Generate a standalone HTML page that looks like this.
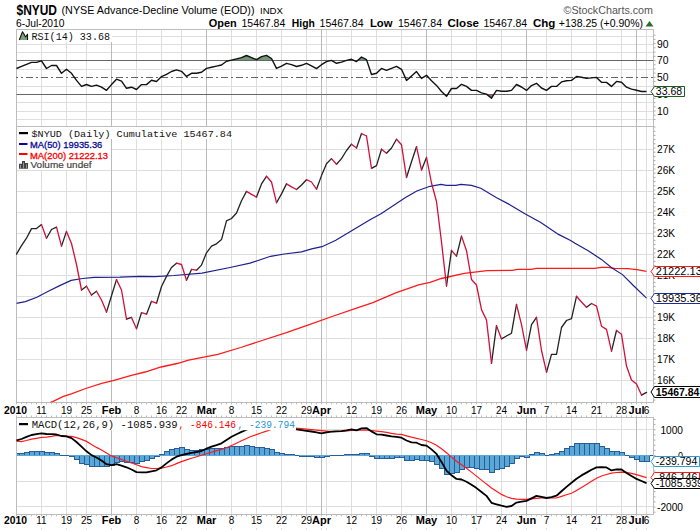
<!DOCTYPE html><html><head><meta charset="utf-8"><style>html,body{margin:0;padding:0;background:#fff;width:700px;height:530px;overflow:hidden}</style></head><body><svg width="700" height="530" viewBox="0 0 700 530" style="display:block">
<rect width="700" height="530" fill="#fff"/>
<text x="16.5" y="15" font-size="14" fill="#000" font-family="'Liberation Sans', sans-serif" font-weight="bold" textLength="40.5" lengthAdjust="spacingAndGlyphs" >$NYUD</text>
<text x="61.5" y="14" font-size="11" fill="#000" font-family="'Liberation Sans', sans-serif" textLength="193" lengthAdjust="spacingAndGlyphs" >(NYSE Advance-Decline Volume (EOD))</text>
<text x="260" y="13.6" font-size="8.8" fill="#000" font-family="'Liberation Sans', sans-serif" textLength="23" lengthAdjust="spacingAndGlyphs" >INDX</text>
<text x="563.5" y="14" font-size="10.8" fill="#555" font-family="'Liberation Sans', sans-serif" textLength="89.5" lengthAdjust="spacingAndGlyphs" >&#169;StockCharts.com</text>
<text x="16" y="26.5" font-size="10.3" fill="#000" font-family="'Liberation Sans', sans-serif" textLength="48.5" lengthAdjust="spacingAndGlyphs" >6-Jul-2010</text>
<text x="208.8" y="26.5" font-size="10.7" fill="#000" font-family="'Liberation Sans', sans-serif" font-weight="bold" textLength="28" lengthAdjust="spacingAndGlyphs" >Open</text>
<text x="241.5" y="26.5" font-size="10.7" fill="#000" font-family="'Liberation Sans', sans-serif" textLength="43.8" lengthAdjust="spacingAndGlyphs" >15467.84</text>
<text x="291.8" y="26.5" font-size="10.7" fill="#000" font-family="'Liberation Sans', sans-serif" font-weight="bold" textLength="23" lengthAdjust="spacingAndGlyphs" >High</text>
<text x="319.6" y="26.5" font-size="10.7" fill="#000" font-family="'Liberation Sans', sans-serif" textLength="44" lengthAdjust="spacingAndGlyphs" >15467.84</text>
<text x="369.9" y="26.5" font-size="10.7" fill="#000" font-family="'Liberation Sans', sans-serif" font-weight="bold" textLength="22.5" lengthAdjust="spacingAndGlyphs" >Low</text>
<text x="398" y="26.5" font-size="10.7" fill="#000" font-family="'Liberation Sans', sans-serif" textLength="44" lengthAdjust="spacingAndGlyphs" >15467.84</text>
<text x="447.5" y="26.5" font-size="10.7" fill="#000" font-family="'Liberation Sans', sans-serif" font-weight="bold" textLength="31.5" lengthAdjust="spacingAndGlyphs" >Close</text>
<text x="483.4" y="26.5" font-size="10.7" fill="#000" font-family="'Liberation Sans', sans-serif" textLength="43.8" lengthAdjust="spacingAndGlyphs" >15467.84</text>
<text x="533" y="26.5" font-size="10.7" fill="#000" font-family="'Liberation Sans', sans-serif" font-weight="bold" textLength="22.4" lengthAdjust="spacingAndGlyphs" >Chg</text>
<text x="558.8" y="26.5" font-size="10.7" fill="#000" font-family="'Liberation Sans', sans-serif" textLength="84.2" lengthAdjust="spacingAndGlyphs" >+138.25 (+0.90%)</text>
<path d="M645.5 26.5 L649.5 21 L653.5 26.5 Z" fill="#2d6e2d"/>
<line x1="16.5" y1="36.5" x2="653.5" y2="36.5" stroke="#dedede" stroke-width="1" />
<line x1="16.5" y1="44.5" x2="653.5" y2="44.5" stroke="#dedede" stroke-width="1" />
<line x1="16.5" y1="52.5" x2="653.5" y2="52.5" stroke="#dedede" stroke-width="1" />
<line x1="16.5" y1="69.5" x2="653.5" y2="69.5" stroke="#dedede" stroke-width="1" />
<line x1="16.5" y1="86.5" x2="653.5" y2="86.5" stroke="#dedede" stroke-width="1" />
<line x1="16.5" y1="102.5" x2="653.5" y2="102.5" stroke="#dedede" stroke-width="1" />
<line x1="16.5" y1="111.5" x2="653.5" y2="111.5" stroke="#dedede" stroke-width="1" />
<line x1="16.5" y1="119.5" x2="653.5" y2="119.5" stroke="#dedede" stroke-width="1" />
<line x1="41.5" y1="29.5" x2="41.5" y2="126.5" stroke="#dedede" stroke-width="1"/>
<line x1="66.5" y1="29.5" x2="66.5" y2="126.5" stroke="#dedede" stroke-width="1"/>
<line x1="86.5" y1="29.5" x2="86.5" y2="126.5" stroke="#dedede" stroke-width="1"/>
<line x1="136.5" y1="29.5" x2="136.5" y2="126.5" stroke="#dedede" stroke-width="1"/>
<line x1="161.5" y1="29.5" x2="161.5" y2="126.5" stroke="#dedede" stroke-width="1"/>
<line x1="181.5" y1="29.5" x2="181.5" y2="126.5" stroke="#dedede" stroke-width="1"/>
<line x1="231.5" y1="29.5" x2="231.5" y2="126.5" stroke="#dedede" stroke-width="1"/>
<line x1="256.5" y1="29.5" x2="256.5" y2="126.5" stroke="#dedede" stroke-width="1"/>
<line x1="281.5" y1="29.5" x2="281.5" y2="126.5" stroke="#dedede" stroke-width="1"/>
<line x1="306.5" y1="29.5" x2="306.5" y2="126.5" stroke="#dedede" stroke-width="1"/>
<line x1="326.5" y1="29.5" x2="326.5" y2="126.5" stroke="#dedede" stroke-width="1"/>
<line x1="351.5" y1="29.5" x2="351.5" y2="126.5" stroke="#dedede" stroke-width="1"/>
<line x1="376.5" y1="29.5" x2="376.5" y2="126.5" stroke="#dedede" stroke-width="1"/>
<line x1="401.5" y1="29.5" x2="401.5" y2="126.5" stroke="#dedede" stroke-width="1"/>
<line x1="451.5" y1="29.5" x2="451.5" y2="126.5" stroke="#dedede" stroke-width="1"/>
<line x1="476.5" y1="29.5" x2="476.5" y2="126.5" stroke="#dedede" stroke-width="1"/>
<line x1="501.5" y1="29.5" x2="501.5" y2="126.5" stroke="#dedede" stroke-width="1"/>
<line x1="546.5" y1="29.5" x2="546.5" y2="126.5" stroke="#dedede" stroke-width="1"/>
<line x1="571.5" y1="29.5" x2="571.5" y2="126.5" stroke="#dedede" stroke-width="1"/>
<line x1="596.5" y1="29.5" x2="596.5" y2="126.5" stroke="#dedede" stroke-width="1"/>
<line x1="621.5" y1="29.5" x2="621.5" y2="126.5" stroke="#dedede" stroke-width="1"/>
<line x1="646.5" y1="29.5" x2="646.5" y2="126.5" stroke="#dedede" stroke-width="1"/>
<line x1="111.5" y1="29.5" x2="111.5" y2="126.5" stroke="#bababa" stroke-width="1"/>
<line x1="206.5" y1="29.5" x2="206.5" y2="126.5" stroke="#bababa" stroke-width="1"/>
<line x1="321.5" y1="29.5" x2="321.5" y2="126.5" stroke="#bababa" stroke-width="1"/>
<line x1="426.5" y1="29.5" x2="426.5" y2="126.5" stroke="#bababa" stroke-width="1"/>
<line x1="526.5" y1="29.5" x2="526.5" y2="126.5" stroke="#bababa" stroke-width="1"/>
<line x1="636.5" y1="29.5" x2="636.5" y2="126.5" stroke="#bababa" stroke-width="1"/>
<rect x="16.5" y="29.5" width="637.0" height="97.0" fill="none" stroke="#bdbdbd"/>
<clipPath id="ca60.5"><rect x="0" y="0" width="700" height="60.5"/></clipPath>
<path d="M16.5 68.50 L21.5 66.40 L26.5 64.40 L31.5 62.40 L36.5 62.40 L41.5 60.90 L46.5 68.50 L51.5 65.50 L56.5 65.50 L61.5 73.30 L66.5 69.30 L71.5 73.30 L76.5 80.40 L81.5 86.40 L86.5 84.50 L91.5 86.40 L96.5 85.10 L101.5 87.20 L106.5 90.30 L111.5 84.60 L116.5 79.20 L121.5 81.10 L126.5 88.30 L131.5 87.20 L136.5 89.50 L141.5 84.60 L146.5 84.60 L151.5 80.30 L156.5 81.50 L161.5 76.60 L166.5 74.40 L171.5 71.50 L176.5 69.90 L181.5 71.30 L186.5 76.40 L191.5 73.30 L196.5 73.30 L201.5 72.20 L206.5 68.40 L211.5 67.30 L216.5 66.10 L221.5 65.00 L226.5 61.30 L231.5 60.10 L236.5 58.90 L241.5 57.60 L246.5 55.50 L251.5 57.60 L256.5 59.60 L261.5 56.70 L266.5 55.30 L271.5 58.50 L276.5 68.40 L281.5 66.10 L286.5 63.30 L291.5 64.70 L296.5 66.50 L301.5 65.30 L306.5 63.30 L311.5 65.80 L316.5 68.60 L321.5 64.70 L326.5 61.60 L331.5 60.40 L336.5 63.30 L341.5 62.10 L346.5 60.40 L351.5 59.30 L356.5 61.60 L361.5 57.00 L366.5 59.60 L371.5 74.50 L376.5 73.30 L381.5 68.40 L386.5 70.40 L391.5 68.30 L396.5 66.40 L401.5 69.30 L406.5 80.40 L411.5 76.10 L416.5 71.60 L421.5 78.40 L426.5 75.30 L431.5 80.70 L436.5 85.40 L441.5 91.50 L446.5 96.30 L451.5 88.50 L456.5 88.50 L461.5 84.30 L466.5 86.40 L471.5 90.40 L476.5 90.40 L481.5 92.90 L486.5 94.10 L491.5 98.20 L496.5 90.40 L501.5 91.30 L506.5 91.30 L511.5 90.40 L516.5 84.50 L521.5 87.00 L526.5 90.40 L531.5 85.60 L536.5 83.30 L541.5 88.00 L546.5 90.40 L551.5 86.40 L556.5 86.40 L561.5 81.90 L566.5 80.70 L571.5 80.40 L576.5 76.50 L581.5 77.30 L586.5 78.40 L591.5 77.90 L596.5 77.40 L601.5 82.30 L606.5 82.40 L611.5 86.40 L616.5 81.40 L621.5 82.30 L626.5 87.20 L631.5 89.10 L636.5 90.20 L641.5 91.50 L646.5 91.50 L646.5 60.5 L16.5 60.5 Z" fill="#6f9a73" clip-path="url(#ca60.5)"/>
<clipPath id="cb94.5"><rect x="0" y="94.5" width="700" height="40"/></clipPath>
<path d="M16.5 68.50 L21.5 66.40 L26.5 64.40 L31.5 62.40 L36.5 62.40 L41.5 60.90 L46.5 68.50 L51.5 65.50 L56.5 65.50 L61.5 73.30 L66.5 69.30 L71.5 73.30 L76.5 80.40 L81.5 86.40 L86.5 84.50 L91.5 86.40 L96.5 85.10 L101.5 87.20 L106.5 90.30 L111.5 84.60 L116.5 79.20 L121.5 81.10 L126.5 88.30 L131.5 87.20 L136.5 89.50 L141.5 84.60 L146.5 84.60 L151.5 80.30 L156.5 81.50 L161.5 76.60 L166.5 74.40 L171.5 71.50 L176.5 69.90 L181.5 71.30 L186.5 76.40 L191.5 73.30 L196.5 73.30 L201.5 72.20 L206.5 68.40 L211.5 67.30 L216.5 66.10 L221.5 65.00 L226.5 61.30 L231.5 60.10 L236.5 58.90 L241.5 57.60 L246.5 55.50 L251.5 57.60 L256.5 59.60 L261.5 56.70 L266.5 55.30 L271.5 58.50 L276.5 68.40 L281.5 66.10 L286.5 63.30 L291.5 64.70 L296.5 66.50 L301.5 65.30 L306.5 63.30 L311.5 65.80 L316.5 68.60 L321.5 64.70 L326.5 61.60 L331.5 60.40 L336.5 63.30 L341.5 62.10 L346.5 60.40 L351.5 59.30 L356.5 61.60 L361.5 57.00 L366.5 59.60 L371.5 74.50 L376.5 73.30 L381.5 68.40 L386.5 70.40 L391.5 68.30 L396.5 66.40 L401.5 69.30 L406.5 80.40 L411.5 76.10 L416.5 71.60 L421.5 78.40 L426.5 75.30 L431.5 80.70 L436.5 85.40 L441.5 91.50 L446.5 96.30 L451.5 88.50 L456.5 88.50 L461.5 84.30 L466.5 86.40 L471.5 90.40 L476.5 90.40 L481.5 92.90 L486.5 94.10 L491.5 98.20 L496.5 90.40 L501.5 91.30 L506.5 91.30 L511.5 90.40 L516.5 84.50 L521.5 87.00 L526.5 90.40 L531.5 85.60 L536.5 83.30 L541.5 88.00 L546.5 90.40 L551.5 86.40 L556.5 86.40 L561.5 81.90 L566.5 80.70 L571.5 80.40 L576.5 76.50 L581.5 77.30 L586.5 78.40 L591.5 77.90 L596.5 77.40 L601.5 82.30 L606.5 82.40 L611.5 86.40 L616.5 81.40 L621.5 82.30 L626.5 87.20 L631.5 89.10 L636.5 90.20 L641.5 91.50 L646.5 91.50 L646.5 94.5 L16.5 94.5 Z" fill="#b06070" clip-path="url(#cb94.5)"/>
<line x1="16.5" y1="60.5" x2="653.5" y2="60.5" stroke="#666" stroke-width="1" />
<line x1="16.5" y1="94.5" x2="653.5" y2="94.5" stroke="#666" stroke-width="1" />
<line x1="16" y1="77.5" x2="653.5" y2="77.5" stroke="#666" stroke-width="1" stroke-dasharray="7,3,2,3" stroke-dashoffset="5"/>
<polyline fill="none" stroke="#111" stroke-width="1.4" stroke-linejoin="round" points="16.5,68.50 21.5,66.40 26.5,64.40 31.5,62.40 36.5,62.40 41.5,60.90 46.5,68.50 51.5,65.50 56.5,65.50 61.5,73.30 66.5,69.30 71.5,73.30 76.5,80.40 81.5,86.40 86.5,84.50 91.5,86.40 96.5,85.10 101.5,87.20 106.5,90.30 111.5,84.60 116.5,79.20 121.5,81.10 126.5,88.30 131.5,87.20 136.5,89.50 141.5,84.60 146.5,84.60 151.5,80.30 156.5,81.50 161.5,76.60 166.5,74.40 171.5,71.50 176.5,69.90 181.5,71.30 186.5,76.40 191.5,73.30 196.5,73.30 201.5,72.20 206.5,68.40 211.5,67.30 216.5,66.10 221.5,65.00 226.5,61.30 231.5,60.10 236.5,58.90 241.5,57.60 246.5,55.50 251.5,57.60 256.5,59.60 261.5,56.70 266.5,55.30 271.5,58.50 276.5,68.40 281.5,66.10 286.5,63.30 291.5,64.70 296.5,66.50 301.5,65.30 306.5,63.30 311.5,65.80 316.5,68.60 321.5,64.70 326.5,61.60 331.5,60.40 336.5,63.30 341.5,62.10 346.5,60.40 351.5,59.30 356.5,61.60 361.5,57.00 366.5,59.60 371.5,74.50 376.5,73.30 381.5,68.40 386.5,70.40 391.5,68.30 396.5,66.40 401.5,69.30 406.5,80.40 411.5,76.10 416.5,71.60 421.5,78.40 426.5,75.30 431.5,80.70 436.5,85.40 441.5,91.50 446.5,96.30 451.5,88.50 456.5,88.50 461.5,84.30 466.5,86.40 471.5,90.40 476.5,90.40 481.5,92.90 486.5,94.10 491.5,98.20 496.5,90.40 501.5,91.30 506.5,91.30 511.5,90.40 516.5,84.50 521.5,87.00 526.5,90.40 531.5,85.60 536.5,83.30 541.5,88.00 546.5,90.40 551.5,86.40 556.5,86.40 561.5,81.90 566.5,80.70 571.5,80.40 576.5,76.50 581.5,77.30 586.5,78.40 591.5,77.90 596.5,77.40 601.5,82.30 606.5,82.40 611.5,86.40 616.5,81.40 621.5,82.30 626.5,87.20 631.5,89.10 636.5,90.20 641.5,91.50 646.5,91.50"/>
<rect x="17" y="30" width="95" height="12" fill="#fff"/>
<path d="M19.5 40 L22.5 31.8 L23.5 33.2 L25.6 37 L27.5 34.2 L27.5 40 Z" fill="#7aa27a"/>
<path d="M19.3 40 L22.5 31.8 L23.5 33.2 L25.6 37 L27.5 34.2 L27.5 40" fill="none" stroke="#111" stroke-width="1.1" stroke-linejoin="round"/>
<text x="31.5" y="39.6" font-size="10" fill="#111" font-family="'Liberation Mono', monospace" textLength="78.5" lengthAdjust="spacingAndGlyphs" >RSI(14) 33.68</text>
<line x1="653.5" y1="35.2" x2="655.5" y2="35.2" stroke="#aaa"/>
<line x1="653.5" y1="39.4" x2="655.5" y2="39.4" stroke="#aaa"/>
<line x1="653.5" y1="43.6" x2="655.5" y2="43.6" stroke="#aaa"/>
<line x1="653.5" y1="47.8" x2="655.5" y2="47.8" stroke="#aaa"/>
<line x1="653.5" y1="52.1" x2="655.5" y2="52.1" stroke="#aaa"/>
<line x1="653.5" y1="56.3" x2="655.5" y2="56.3" stroke="#aaa"/>
<line x1="653.5" y1="60.5" x2="655.5" y2="60.5" stroke="#aaa"/>
<line x1="653.5" y1="64.7" x2="655.5" y2="64.7" stroke="#aaa"/>
<line x1="653.5" y1="68.9" x2="655.5" y2="68.9" stroke="#aaa"/>
<line x1="653.5" y1="73.1" x2="655.5" y2="73.1" stroke="#aaa"/>
<line x1="653.5" y1="77.3" x2="655.5" y2="77.3" stroke="#aaa"/>
<line x1="653.5" y1="81.5" x2="655.5" y2="81.5" stroke="#aaa"/>
<line x1="653.5" y1="85.8" x2="655.5" y2="85.8" stroke="#aaa"/>
<line x1="653.5" y1="90.0" x2="655.5" y2="90.0" stroke="#aaa"/>
<line x1="653.5" y1="94.2" x2="655.5" y2="94.2" stroke="#aaa"/>
<line x1="653.5" y1="98.4" x2="655.5" y2="98.4" stroke="#aaa"/>
<line x1="653.5" y1="102.6" x2="655.5" y2="102.6" stroke="#aaa"/>
<line x1="653.5" y1="106.8" x2="655.5" y2="106.8" stroke="#aaa"/>
<line x1="653.5" y1="111.0" x2="655.5" y2="111.0" stroke="#aaa"/>
<line x1="653.5" y1="115.2" x2="655.5" y2="115.2" stroke="#aaa"/>
<line x1="653.5" y1="119.5" x2="655.5" y2="119.5" stroke="#aaa"/>
<text x="657" y="48.2" font-size="10" fill="#000" font-family="'Liberation Sans', sans-serif" textLength="11.5" lengthAdjust="spacingAndGlyphs" >90</text>
<text x="657" y="64.2" font-size="10" fill="#000" font-family="'Liberation Sans', sans-serif" textLength="11.5" lengthAdjust="spacingAndGlyphs" >70</text>
<text x="657" y="81.2" font-size="10" fill="#000" font-family="'Liberation Sans', sans-serif" textLength="11.5" lengthAdjust="spacingAndGlyphs" >50</text>
<text x="657" y="98.2" font-size="10" fill="#000" font-family="'Liberation Sans', sans-serif" textLength="11.5" lengthAdjust="spacingAndGlyphs" >30</text>
<text x="657" y="115.2" font-size="10" fill="#000" font-family="'Liberation Sans', sans-serif" textLength="11.5" lengthAdjust="spacingAndGlyphs" >10</text>
<line x1="16.5" y1="149.5" x2="653.5" y2="149.5" stroke="#dedede" stroke-width="1" />
<line x1="16.5" y1="170.5" x2="653.5" y2="170.5" stroke="#dedede" stroke-width="1" />
<line x1="16.5" y1="191.5" x2="653.5" y2="191.5" stroke="#dedede" stroke-width="1" />
<line x1="16.5" y1="212.5" x2="653.5" y2="212.5" stroke="#dedede" stroke-width="1" />
<line x1="16.5" y1="233.5" x2="653.5" y2="233.5" stroke="#dedede" stroke-width="1" />
<line x1="16.5" y1="254.5" x2="653.5" y2="254.5" stroke="#dedede" stroke-width="1" />
<line x1="16.5" y1="275.5" x2="653.5" y2="275.5" stroke="#dedede" stroke-width="1" />
<line x1="16.5" y1="296.5" x2="653.5" y2="296.5" stroke="#dedede" stroke-width="1" />
<line x1="16.5" y1="317.5" x2="653.5" y2="317.5" stroke="#dedede" stroke-width="1" />
<line x1="16.5" y1="338.5" x2="653.5" y2="338.5" stroke="#dedede" stroke-width="1" />
<line x1="16.5" y1="359.5" x2="653.5" y2="359.5" stroke="#dedede" stroke-width="1" />
<line x1="16.5" y1="380.5" x2="653.5" y2="380.5" stroke="#dedede" stroke-width="1" />
<line x1="41.5" y1="126.5" x2="41.5" y2="402.5" stroke="#dedede" stroke-width="1"/>
<line x1="66.5" y1="126.5" x2="66.5" y2="402.5" stroke="#dedede" stroke-width="1"/>
<line x1="86.5" y1="126.5" x2="86.5" y2="402.5" stroke="#dedede" stroke-width="1"/>
<line x1="136.5" y1="126.5" x2="136.5" y2="402.5" stroke="#dedede" stroke-width="1"/>
<line x1="161.5" y1="126.5" x2="161.5" y2="402.5" stroke="#dedede" stroke-width="1"/>
<line x1="181.5" y1="126.5" x2="181.5" y2="402.5" stroke="#dedede" stroke-width="1"/>
<line x1="231.5" y1="126.5" x2="231.5" y2="402.5" stroke="#dedede" stroke-width="1"/>
<line x1="256.5" y1="126.5" x2="256.5" y2="402.5" stroke="#dedede" stroke-width="1"/>
<line x1="281.5" y1="126.5" x2="281.5" y2="402.5" stroke="#dedede" stroke-width="1"/>
<line x1="306.5" y1="126.5" x2="306.5" y2="402.5" stroke="#dedede" stroke-width="1"/>
<line x1="326.5" y1="126.5" x2="326.5" y2="402.5" stroke="#dedede" stroke-width="1"/>
<line x1="351.5" y1="126.5" x2="351.5" y2="402.5" stroke="#dedede" stroke-width="1"/>
<line x1="376.5" y1="126.5" x2="376.5" y2="402.5" stroke="#dedede" stroke-width="1"/>
<line x1="401.5" y1="126.5" x2="401.5" y2="402.5" stroke="#dedede" stroke-width="1"/>
<line x1="451.5" y1="126.5" x2="451.5" y2="402.5" stroke="#dedede" stroke-width="1"/>
<line x1="476.5" y1="126.5" x2="476.5" y2="402.5" stroke="#dedede" stroke-width="1"/>
<line x1="501.5" y1="126.5" x2="501.5" y2="402.5" stroke="#dedede" stroke-width="1"/>
<line x1="546.5" y1="126.5" x2="546.5" y2="402.5" stroke="#dedede" stroke-width="1"/>
<line x1="571.5" y1="126.5" x2="571.5" y2="402.5" stroke="#dedede" stroke-width="1"/>
<line x1="596.5" y1="126.5" x2="596.5" y2="402.5" stroke="#dedede" stroke-width="1"/>
<line x1="621.5" y1="126.5" x2="621.5" y2="402.5" stroke="#dedede" stroke-width="1"/>
<line x1="646.5" y1="126.5" x2="646.5" y2="402.5" stroke="#dedede" stroke-width="1"/>
<line x1="111.5" y1="126.5" x2="111.5" y2="402.5" stroke="#bababa" stroke-width="1"/>
<line x1="206.5" y1="126.5" x2="206.5" y2="402.5" stroke="#bababa" stroke-width="1"/>
<line x1="321.5" y1="126.5" x2="321.5" y2="402.5" stroke="#bababa" stroke-width="1"/>
<line x1="426.5" y1="126.5" x2="426.5" y2="402.5" stroke="#bababa" stroke-width="1"/>
<line x1="526.5" y1="126.5" x2="526.5" y2="402.5" stroke="#bababa" stroke-width="1"/>
<line x1="636.5" y1="126.5" x2="636.5" y2="402.5" stroke="#bababa" stroke-width="1"/>
<rect x="16.5" y="126.5" width="637.0" height="276.0" fill="none" stroke="#bdbdbd"/>
<clipPath id="cm"><rect x="16.5" y="126.5" width="637" height="276"/></clipPath>
<polyline clip-path="url(#cm)" fill="none" stroke="#ff1a1a" stroke-width="1.3" points="50,402.5 52.6,401.7 62.9,396.7 72,393.7 85.7,388.5 101.7,383.4 113.1,380.7 131.4,375.4 145.1,372 161.1,367 177.1,363.5 188.6,360.1 200,357.8 217.9,354.4 240.7,347.5 263.6,340 286.4,332.7 309.3,324.7 332.1,316.5 355,308.7 372.9,302.7 395.7,292.9 418.6,284.9 430,282.4 441.4,278.5 464.3,273.4 487.1,270.7 512.3,270.4 517.4,269.4 531.2,269.4 536.3,268.4 594.6,268.4 601.5,267.3 608,267.3 614.6,268.4 627.8,268.7 637,269.6 646.5,271.3"/>
<polyline clip-path="url(#cm)" fill="none" stroke="#1f1f90" stroke-width="1.2" points="16.3,303.3 25.4,301.6 36.9,297.3 48.3,291.3 59.7,285.6 71.1,280.4 82.6,278.5 94,277.3 120,277.2 140,276.4 155,276.6 174,275.5 202,273.2 230,267.5 250,263.1 270.6,256.3 284.3,254 301.5,251.8 311.7,248.9 322,246.7 335.8,240.3 352.9,230 370,219.7 381,213.7 405.5,197.6 416.8,191 430,186.3 441,184.3 446.4,185.4 455.7,185.4 461,184.3 471.5,185.4 480.8,188.2 496.6,197.8 510.2,204.9 525.3,214 540.4,222.3 558.5,234.4 570.6,240.4 575,243.2 588.2,250.8 601.4,259.4 612,268 622.5,274.6 634.4,286.5 646.5,298.1"/>
<path fill="none" stroke="#222" stroke-width="1.3" stroke-linecap="round" d="M16.5 254.1 L21.5 245.6 M21.5 245.6 L26.5 238.2 M26.5 238.2 L31.5 228.6 M31.5 228.6 L36.5 228.6 M36.5 228.6 L41.5 224.6 M46.5 238.2 L51.5 229.5 M51.5 229.5 L56.5 227.2 M61.5 246.1 L66.5 231.4 M81.5 290 L86.5 286.2 M91.5 295.1 L96.5 291.3 M106.5 312.1 L111.5 295.8 M111.5 295.8 L116.5 279.6 M126.5 319.2 L131.5 317.4 M136.5 328.7 L141.5 312.6 M146.5 314.2 L151.5 301.3 M156.5 303.2 L161.5 286.5 M161.5 286.5 L166.5 276.4 M166.5 276.4 L171.5 267.5 M171.5 267.5 L176.5 263.2 M186.5 280.2 L191.5 269.4 M196.5 270.2 L201.5 265.1 M201.5 265.1 L206.5 252.8 M206.5 252.8 L211.5 246.2 M211.5 246.2 L216.5 243.8 M216.5 243.8 L221.5 239.6 M221.5 239.6 L226.5 220.8 M226.5 220.8 L231.5 218.5 M231.5 218.5 L236.5 213 M236.5 213 L241.5 200.7 M241.5 200.7 L246.5 191.4 M256.5 197.1 L261.5 183.9 M261.5 183.9 L266.5 176.3 M276.5 202.7 L281.5 193.9 M281.5 193.9 L286.5 183.9 M296.5 189.5 L301.5 185 M301.5 185 L306.5 179.7 M316.5 189.2 L321.5 175.6 M321.5 175.6 L326.5 163.7 M326.5 163.7 L331.5 158.6 M336.5 164.2 L341.5 158.6 M341.5 158.6 L346.5 150.5 M346.5 150.5 L351.5 144.2 M356.5 148 L361.5 133.5 M371.5 168.4 L376.5 165.6 M376.5 165.6 L381.5 149.2 M386.5 153.3 L391.5 148 M391.5 148 L396.5 139.2 M406.5 177.5 L411.5 161.8 M411.5 161.8 L416.5 146.7 M421.5 170 L426.5 157.4 M446.5 286 L451.5 250.4 M456.5 256.2 L461.5 236.1 M491.5 363.4 L496.5 325.7 M501.5 338.9 L506.5 336 M506.5 336 L511.5 333.2 M511.5 333.2 L516.5 304.3 M526.5 350.2 L531.5 324.7 M531.5 324.7 L536.5 317.3 M546.5 372.2 L551.5 354.4 M551.5 354.4 L556.5 354.4 M556.5 354.4 L561.5 327.5 M561.5 327.5 L566.5 320.5 M566.5 320.5 L571.5 318.6 M571.5 318.6 L576.5 296.3 M586.5 307.3 L591.5 303.5 M611.5 351.2 L616.5 330.5 M641.5 395.1 L646.5 392.4"/>
<path fill="none" stroke="#d0103a" stroke-width="1.3" stroke-linecap="round" d="M41.5 224.6 L46.5 238.2 M56.5 227.2 L61.5 246.1 M66.5 231.4 L71.5 243.5 M71.5 243.5 L76.5 264.5 M76.5 264.5 L81.5 290 M86.5 286.2 L91.5 295.1 M96.5 291.3 L101.5 300 M101.5 300 L106.5 312.1 M116.5 279.6 L121.5 290 M121.5 290 L126.5 319.2 M131.5 317.4 L136.5 328.7 M141.5 312.6 L146.5 314.2 M151.5 301.3 L156.5 303.2 M176.5 263.2 L181.5 264.5 M181.5 264.5 L186.5 280.2 M191.5 269.4 L196.5 270.2 M246.5 191.4 L251.5 194.4 M251.5 194.4 L256.5 197.1 M266.5 176.3 L271.5 182 M271.5 182 L276.5 202.7 M286.5 183.9 L291.5 186.9 M291.5 186.9 L296.5 189.5 M306.5 179.7 L311.5 182 M311.5 182 L316.5 189.2 M331.5 158.6 L336.5 164.2 M351.5 144.2 L356.5 148 M361.5 133.5 L366.5 136 M366.5 136 L371.5 168.4 M381.5 149.2 L386.5 153.3 M396.5 139.2 L401.5 144.8 M401.5 144.8 L406.5 177.5 M416.5 146.7 L421.5 170 M426.5 157.4 L431.5 183 M431.5 183 L436.5 201.5 M436.5 201.5 L441.5 242 M441.5 242 L446.5 286 M451.5 250.4 L456.5 256.2 M461.5 236.1 L466.5 250.7 M466.5 250.7 L471.5 279.5 M471.5 279.5 L476.5 285 M476.5 285 L481.5 309.6 M481.5 309.6 L486.5 320 M486.5 320 L491.5 363.4 M496.5 325.7 L501.5 338.9 M516.5 304.3 L521.5 324.7 M521.5 324.7 L526.5 350.2 M536.5 317.3 L541.5 350.5 M541.5 350.5 L546.5 372.2 M576.5 296.3 L581.5 302 M581.5 302 L586.5 307.3 M591.5 303.5 L596.5 306.1 M596.5 306.1 L601.5 326.2 M601.5 326.2 L606.5 329.4 M606.5 329.4 L611.5 351.2 M616.5 330.5 L621.5 334.3 M621.5 334.3 L626.5 366 M626.5 366 L631.5 380 M631.5 380 L636.5 384.1 M636.5 384.1 L641.5 395.1"/>
<rect x="17" y="127" width="218" height="12" fill="#fff"/>
<rect x="17" y="139" width="93.5" height="31" fill="#fff"/>
<rect x="19" y="132" width="9" height="2.2" fill="#000"/>
<text x="31.5" y="137.2" font-size="9.8" fill="#111" font-family="'Liberation Mono', monospace" textLength="200.5" lengthAdjust="spacingAndGlyphs" >$NYUD (Daily) Cumulative 15467.84</text>
<rect x="19" y="143" width="8.5" height="2" fill="#0a0a96"/>
<text x="30" y="147.8" font-size="9.3" fill="#0a0a96" font-family="'Liberation Sans', sans-serif" textLength="72.3" lengthAdjust="spacingAndGlyphs" stroke="#0a0a96" stroke-width="0.3">MA(50) 19935.36</text>
<rect x="19" y="153" width="8.5" height="2" fill="#ff0000"/>
<text x="30" y="158.6" font-size="9.3" fill="#ff0000" font-family="'Liberation Sans', sans-serif" textLength="78" lengthAdjust="spacingAndGlyphs" stroke="#ff0000" stroke-width="0.3">MA(200) 21222.13</text>
<path d="M19 168.8 V163.8 H22 V161 H25 V163 H28 V168.8 Z" fill="#444"/>
<path d="M20.5 165 V168.3 M23.5 162.5 V168.3 M26.5 164.3 V168.3" stroke="#aaa" stroke-width="0.8"/>
<text x="30.5" y="168.3" font-size="9.3" fill="#444" font-family="'Liberation Sans', sans-serif" textLength="61" lengthAdjust="spacingAndGlyphs" stroke="#444" stroke-width="0.2">Volume undef</text>
<line x1="653.5" y1="127.0" x2="655.5" y2="127.0" stroke="#aaa"/>
<line x1="653.5" y1="131.2" x2="655.5" y2="131.2" stroke="#aaa"/>
<line x1="653.5" y1="135.4" x2="655.5" y2="135.4" stroke="#aaa"/>
<line x1="653.5" y1="139.6" x2="655.5" y2="139.6" stroke="#aaa"/>
<line x1="653.5" y1="143.8" x2="655.5" y2="143.8" stroke="#aaa"/>
<line x1="653.5" y1="148.0" x2="655.5" y2="148.0" stroke="#aaa"/>
<line x1="653.5" y1="152.2" x2="655.5" y2="152.2" stroke="#aaa"/>
<line x1="653.5" y1="156.4" x2="655.5" y2="156.4" stroke="#aaa"/>
<line x1="653.5" y1="160.6" x2="655.5" y2="160.6" stroke="#aaa"/>
<line x1="653.5" y1="164.8" x2="655.5" y2="164.8" stroke="#aaa"/>
<line x1="653.5" y1="169.0" x2="655.5" y2="169.0" stroke="#aaa"/>
<line x1="653.5" y1="173.2" x2="655.5" y2="173.2" stroke="#aaa"/>
<line x1="653.5" y1="177.4" x2="655.5" y2="177.4" stroke="#aaa"/>
<line x1="653.5" y1="181.6" x2="655.5" y2="181.6" stroke="#aaa"/>
<line x1="653.5" y1="185.8" x2="655.5" y2="185.8" stroke="#aaa"/>
<line x1="653.5" y1="190.0" x2="655.5" y2="190.0" stroke="#aaa"/>
<line x1="653.5" y1="194.2" x2="655.5" y2="194.2" stroke="#aaa"/>
<line x1="653.5" y1="198.4" x2="655.5" y2="198.4" stroke="#aaa"/>
<line x1="653.5" y1="202.6" x2="655.5" y2="202.6" stroke="#aaa"/>
<line x1="653.5" y1="206.8" x2="655.5" y2="206.8" stroke="#aaa"/>
<line x1="653.5" y1="211.0" x2="655.5" y2="211.0" stroke="#aaa"/>
<line x1="653.5" y1="215.2" x2="655.5" y2="215.2" stroke="#aaa"/>
<line x1="653.5" y1="219.4" x2="655.5" y2="219.4" stroke="#aaa"/>
<line x1="653.5" y1="223.6" x2="655.5" y2="223.6" stroke="#aaa"/>
<line x1="653.5" y1="227.8" x2="655.5" y2="227.8" stroke="#aaa"/>
<line x1="653.5" y1="232.0" x2="655.5" y2="232.0" stroke="#aaa"/>
<line x1="653.5" y1="236.2" x2="655.5" y2="236.2" stroke="#aaa"/>
<line x1="653.5" y1="240.4" x2="655.5" y2="240.4" stroke="#aaa"/>
<line x1="653.5" y1="244.6" x2="655.5" y2="244.6" stroke="#aaa"/>
<line x1="653.5" y1="248.8" x2="655.5" y2="248.8" stroke="#aaa"/>
<line x1="653.5" y1="253.0" x2="655.5" y2="253.0" stroke="#aaa"/>
<line x1="653.5" y1="257.2" x2="655.5" y2="257.2" stroke="#aaa"/>
<line x1="653.5" y1="261.4" x2="655.5" y2="261.4" stroke="#aaa"/>
<line x1="653.5" y1="265.6" x2="655.5" y2="265.6" stroke="#aaa"/>
<line x1="653.5" y1="269.8" x2="655.5" y2="269.8" stroke="#aaa"/>
<line x1="653.5" y1="274.0" x2="655.5" y2="274.0" stroke="#aaa"/>
<line x1="653.5" y1="278.2" x2="655.5" y2="278.2" stroke="#aaa"/>
<line x1="653.5" y1="282.4" x2="655.5" y2="282.4" stroke="#aaa"/>
<line x1="653.5" y1="286.6" x2="655.5" y2="286.6" stroke="#aaa"/>
<line x1="653.5" y1="290.8" x2="655.5" y2="290.8" stroke="#aaa"/>
<line x1="653.5" y1="295.0" x2="655.5" y2="295.0" stroke="#aaa"/>
<line x1="653.5" y1="299.2" x2="655.5" y2="299.2" stroke="#aaa"/>
<line x1="653.5" y1="303.4" x2="655.5" y2="303.4" stroke="#aaa"/>
<line x1="653.5" y1="307.6" x2="655.5" y2="307.6" stroke="#aaa"/>
<line x1="653.5" y1="311.8" x2="655.5" y2="311.8" stroke="#aaa"/>
<line x1="653.5" y1="316.0" x2="655.5" y2="316.0" stroke="#aaa"/>
<line x1="653.5" y1="320.2" x2="655.5" y2="320.2" stroke="#aaa"/>
<line x1="653.5" y1="324.4" x2="655.5" y2="324.4" stroke="#aaa"/>
<line x1="653.5" y1="328.6" x2="655.5" y2="328.6" stroke="#aaa"/>
<line x1="653.5" y1="332.8" x2="655.5" y2="332.8" stroke="#aaa"/>
<line x1="653.5" y1="337.0" x2="655.5" y2="337.0" stroke="#aaa"/>
<line x1="653.5" y1="341.2" x2="655.5" y2="341.2" stroke="#aaa"/>
<line x1="653.5" y1="345.4" x2="655.5" y2="345.4" stroke="#aaa"/>
<line x1="653.5" y1="349.6" x2="655.5" y2="349.6" stroke="#aaa"/>
<line x1="653.5" y1="353.8" x2="655.5" y2="353.8" stroke="#aaa"/>
<line x1="653.5" y1="358.0" x2="655.5" y2="358.0" stroke="#aaa"/>
<line x1="653.5" y1="362.2" x2="655.5" y2="362.2" stroke="#aaa"/>
<line x1="653.5" y1="366.4" x2="655.5" y2="366.4" stroke="#aaa"/>
<line x1="653.5" y1="370.6" x2="655.5" y2="370.6" stroke="#aaa"/>
<line x1="653.5" y1="374.8" x2="655.5" y2="374.8" stroke="#aaa"/>
<line x1="653.5" y1="379.0" x2="655.5" y2="379.0" stroke="#aaa"/>
<line x1="653.5" y1="383.2" x2="655.5" y2="383.2" stroke="#aaa"/>
<line x1="653.5" y1="387.4" x2="655.5" y2="387.4" stroke="#aaa"/>
<line x1="653.5" y1="391.6" x2="655.5" y2="391.6" stroke="#aaa"/>
<line x1="653.5" y1="395.8" x2="655.5" y2="395.8" stroke="#aaa"/>
<line x1="653.5" y1="400.0" x2="655.5" y2="400.0" stroke="#aaa"/>
<text x="657" y="153.3" font-size="10" fill="#000" font-family="'Liberation Sans', sans-serif" textLength="18" lengthAdjust="spacingAndGlyphs" >27K</text>
<text x="657" y="174.3" font-size="10" fill="#000" font-family="'Liberation Sans', sans-serif" textLength="18" lengthAdjust="spacingAndGlyphs" >26K</text>
<text x="657" y="195.3" font-size="10" fill="#000" font-family="'Liberation Sans', sans-serif" textLength="18" lengthAdjust="spacingAndGlyphs" >25K</text>
<text x="657" y="216.3" font-size="10" fill="#000" font-family="'Liberation Sans', sans-serif" textLength="18" lengthAdjust="spacingAndGlyphs" >24K</text>
<text x="657" y="237.3" font-size="10" fill="#000" font-family="'Liberation Sans', sans-serif" textLength="18" lengthAdjust="spacingAndGlyphs" >23K</text>
<text x="657" y="258.3" font-size="10" fill="#000" font-family="'Liberation Sans', sans-serif" textLength="18" lengthAdjust="spacingAndGlyphs" >22K</text>
<text x="657" y="279.3" font-size="10" fill="#000" font-family="'Liberation Sans', sans-serif" textLength="18" lengthAdjust="spacingAndGlyphs" >21K</text>
<text x="657" y="321.3" font-size="10" fill="#000" font-family="'Liberation Sans', sans-serif" textLength="18" lengthAdjust="spacingAndGlyphs" >19K</text>
<text x="657" y="342.3" font-size="10" fill="#000" font-family="'Liberation Sans', sans-serif" textLength="18" lengthAdjust="spacingAndGlyphs" >18K</text>
<text x="657" y="363.3" font-size="10" fill="#000" font-family="'Liberation Sans', sans-serif" textLength="18" lengthAdjust="spacingAndGlyphs" >17K</text>
<text x="657" y="384.3" font-size="10" fill="#000" font-family="'Liberation Sans', sans-serif" textLength="18" lengthAdjust="spacingAndGlyphs" >16K</text>
<path d="M16.5 402.5 V404.3 M21.5 402.5 V404.3 M26.5 402.5 V404.3 M31.5 402.5 V404.3 M36.5 402.5 V404.3 M41.5 402.5 V404.3 M46.5 402.5 V404.3 M51.5 402.5 V404.3 M56.5 402.5 V404.3 M61.5 402.5 V404.3 M66.5 402.5 V404.3 M71.5 402.5 V404.3 M76.5 402.5 V404.3 M81.5 402.5 V404.3 M86.5 402.5 V404.3 M91.5 402.5 V404.3 M96.5 402.5 V404.3 M101.5 402.5 V404.3 M106.5 402.5 V404.3 M111.5 402.5 V404.3 M116.5 402.5 V404.3 M121.5 402.5 V404.3 M126.5 402.5 V404.3 M131.5 402.5 V404.3 M136.5 402.5 V404.3 M141.5 402.5 V404.3 M146.5 402.5 V404.3 M151.5 402.5 V404.3 M156.5 402.5 V404.3 M161.5 402.5 V404.3 M166.5 402.5 V404.3 M171.5 402.5 V404.3 M176.5 402.5 V404.3 M181.5 402.5 V404.3 M186.5 402.5 V404.3 M191.5 402.5 V404.3 M196.5 402.5 V404.3 M201.5 402.5 V404.3 M206.5 402.5 V404.3 M211.5 402.5 V404.3 M216.5 402.5 V404.3 M221.5 402.5 V404.3 M226.5 402.5 V404.3 M231.5 402.5 V404.3 M236.5 402.5 V404.3 M241.5 402.5 V404.3 M246.5 402.5 V404.3 M251.5 402.5 V404.3 M256.5 402.5 V404.3 M261.5 402.5 V404.3 M266.5 402.5 V404.3 M271.5 402.5 V404.3 M276.5 402.5 V404.3 M281.5 402.5 V404.3 M286.5 402.5 V404.3 M291.5 402.5 V404.3 M296.5 402.5 V404.3 M301.5 402.5 V404.3 M306.5 402.5 V404.3 M311.5 402.5 V404.3 M316.5 402.5 V404.3 M321.5 402.5 V404.3 M326.5 402.5 V404.3 M331.5 402.5 V404.3 M336.5 402.5 V404.3 M341.5 402.5 V404.3 M346.5 402.5 V404.3 M351.5 402.5 V404.3 M356.5 402.5 V404.3 M361.5 402.5 V404.3 M366.5 402.5 V404.3 M371.5 402.5 V404.3 M376.5 402.5 V404.3 M381.5 402.5 V404.3 M386.5 402.5 V404.3 M391.5 402.5 V404.3 M396.5 402.5 V404.3 M401.5 402.5 V404.3 M406.5 402.5 V404.3 M411.5 402.5 V404.3 M416.5 402.5 V404.3 M421.5 402.5 V404.3 M426.5 402.5 V404.3 M431.5 402.5 V404.3 M436.5 402.5 V404.3 M441.5 402.5 V404.3 M446.5 402.5 V404.3 M451.5 402.5 V404.3 M456.5 402.5 V404.3 M461.5 402.5 V404.3 M466.5 402.5 V404.3 M471.5 402.5 V404.3 M476.5 402.5 V404.3 M481.5 402.5 V404.3 M486.5 402.5 V404.3 M491.5 402.5 V404.3 M496.5 402.5 V404.3 M501.5 402.5 V404.3 M506.5 402.5 V404.3 M511.5 402.5 V404.3 M516.5 402.5 V404.3 M521.5 402.5 V404.3 M526.5 402.5 V404.3 M531.5 402.5 V404.3 M536.5 402.5 V404.3 M541.5 402.5 V404.3 M546.5 402.5 V404.3 M551.5 402.5 V404.3 M556.5 402.5 V404.3 M561.5 402.5 V404.3 M566.5 402.5 V404.3 M571.5 402.5 V404.3 M576.5 402.5 V404.3 M581.5 402.5 V404.3 M586.5 402.5 V404.3 M591.5 402.5 V404.3 M596.5 402.5 V404.3 M601.5 402.5 V404.3 M606.5 402.5 V404.3 M611.5 402.5 V404.3 M616.5 402.5 V404.3 M621.5 402.5 V404.3 M626.5 402.5 V404.3 M631.5 402.5 V404.3 M636.5 402.5 V404.3 M641.5 402.5 V404.3 M646.5 402.5 V404.3" stroke="#bbb" stroke-width="1"/>
<path d="M16.5 415.5 V417.5 M21.5 415.5 V417.5 M26.5 415.5 V417.5 M31.5 415.5 V417.5 M36.5 415.5 V417.5 M41.5 415.5 V417.5 M46.5 415.5 V417.5 M51.5 415.5 V417.5 M56.5 415.5 V417.5 M61.5 415.5 V417.5 M66.5 415.5 V417.5 M71.5 415.5 V417.5 M76.5 415.5 V417.5 M81.5 415.5 V417.5 M86.5 415.5 V417.5 M91.5 415.5 V417.5 M96.5 415.5 V417.5 M101.5 415.5 V417.5 M106.5 415.5 V417.5 M111.5 415.5 V417.5 M116.5 415.5 V417.5 M121.5 415.5 V417.5 M126.5 415.5 V417.5 M131.5 415.5 V417.5 M136.5 415.5 V417.5 M141.5 415.5 V417.5 M146.5 415.5 V417.5 M151.5 415.5 V417.5 M156.5 415.5 V417.5 M161.5 415.5 V417.5 M166.5 415.5 V417.5 M171.5 415.5 V417.5 M176.5 415.5 V417.5 M181.5 415.5 V417.5 M186.5 415.5 V417.5 M191.5 415.5 V417.5 M196.5 415.5 V417.5 M201.5 415.5 V417.5 M206.5 415.5 V417.5 M211.5 415.5 V417.5 M216.5 415.5 V417.5 M221.5 415.5 V417.5 M226.5 415.5 V417.5 M231.5 415.5 V417.5 M236.5 415.5 V417.5 M241.5 415.5 V417.5 M246.5 415.5 V417.5 M251.5 415.5 V417.5 M256.5 415.5 V417.5 M261.5 415.5 V417.5 M266.5 415.5 V417.5 M271.5 415.5 V417.5 M276.5 415.5 V417.5 M281.5 415.5 V417.5 M286.5 415.5 V417.5 M291.5 415.5 V417.5 M296.5 415.5 V417.5 M301.5 415.5 V417.5 M306.5 415.5 V417.5 M311.5 415.5 V417.5 M316.5 415.5 V417.5 M321.5 415.5 V417.5 M326.5 415.5 V417.5 M331.5 415.5 V417.5 M336.5 415.5 V417.5 M341.5 415.5 V417.5 M346.5 415.5 V417.5 M351.5 415.5 V417.5 M356.5 415.5 V417.5 M361.5 415.5 V417.5 M366.5 415.5 V417.5 M371.5 415.5 V417.5 M376.5 415.5 V417.5 M381.5 415.5 V417.5 M386.5 415.5 V417.5 M391.5 415.5 V417.5 M396.5 415.5 V417.5 M401.5 415.5 V417.5 M406.5 415.5 V417.5 M411.5 415.5 V417.5 M416.5 415.5 V417.5 M421.5 415.5 V417.5 M426.5 415.5 V417.5 M431.5 415.5 V417.5 M436.5 415.5 V417.5 M441.5 415.5 V417.5 M446.5 415.5 V417.5 M451.5 415.5 V417.5 M456.5 415.5 V417.5 M461.5 415.5 V417.5 M466.5 415.5 V417.5 M471.5 415.5 V417.5 M476.5 415.5 V417.5 M481.5 415.5 V417.5 M486.5 415.5 V417.5 M491.5 415.5 V417.5 M496.5 415.5 V417.5 M501.5 415.5 V417.5 M506.5 415.5 V417.5 M511.5 415.5 V417.5 M516.5 415.5 V417.5 M521.5 415.5 V417.5 M526.5 415.5 V417.5 M531.5 415.5 V417.5 M536.5 415.5 V417.5 M541.5 415.5 V417.5 M546.5 415.5 V417.5 M551.5 415.5 V417.5 M556.5 415.5 V417.5 M561.5 415.5 V417.5 M566.5 415.5 V417.5 M571.5 415.5 V417.5 M576.5 415.5 V417.5 M581.5 415.5 V417.5 M586.5 415.5 V417.5 M591.5 415.5 V417.5 M596.5 415.5 V417.5 M601.5 415.5 V417.5 M606.5 415.5 V417.5 M611.5 415.5 V417.5 M616.5 415.5 V417.5 M621.5 415.5 V417.5 M626.5 415.5 V417.5 M631.5 415.5 V417.5 M636.5 415.5 V417.5 M641.5 415.5 V417.5 M646.5 415.5 V417.5" stroke="#bbb" stroke-width="1"/>
<path d="M16.5 514.5 V516.3 M21.5 514.5 V516.3 M26.5 514.5 V516.3 M31.5 514.5 V516.3 M36.5 514.5 V516.3 M41.5 514.5 V516.3 M46.5 514.5 V516.3 M51.5 514.5 V516.3 M56.5 514.5 V516.3 M61.5 514.5 V516.3 M66.5 514.5 V516.3 M71.5 514.5 V516.3 M76.5 514.5 V516.3 M81.5 514.5 V516.3 M86.5 514.5 V516.3 M91.5 514.5 V516.3 M96.5 514.5 V516.3 M101.5 514.5 V516.3 M106.5 514.5 V516.3 M111.5 514.5 V516.3 M116.5 514.5 V516.3 M121.5 514.5 V516.3 M126.5 514.5 V516.3 M131.5 514.5 V516.3 M136.5 514.5 V516.3 M141.5 514.5 V516.3 M146.5 514.5 V516.3 M151.5 514.5 V516.3 M156.5 514.5 V516.3 M161.5 514.5 V516.3 M166.5 514.5 V516.3 M171.5 514.5 V516.3 M176.5 514.5 V516.3 M181.5 514.5 V516.3 M186.5 514.5 V516.3 M191.5 514.5 V516.3 M196.5 514.5 V516.3 M201.5 514.5 V516.3 M206.5 514.5 V516.3 M211.5 514.5 V516.3 M216.5 514.5 V516.3 M221.5 514.5 V516.3 M226.5 514.5 V516.3 M231.5 514.5 V516.3 M236.5 514.5 V516.3 M241.5 514.5 V516.3 M246.5 514.5 V516.3 M251.5 514.5 V516.3 M256.5 514.5 V516.3 M261.5 514.5 V516.3 M266.5 514.5 V516.3 M271.5 514.5 V516.3 M276.5 514.5 V516.3 M281.5 514.5 V516.3 M286.5 514.5 V516.3 M291.5 514.5 V516.3 M296.5 514.5 V516.3 M301.5 514.5 V516.3 M306.5 514.5 V516.3 M311.5 514.5 V516.3 M316.5 514.5 V516.3 M321.5 514.5 V516.3 M326.5 514.5 V516.3 M331.5 514.5 V516.3 M336.5 514.5 V516.3 M341.5 514.5 V516.3 M346.5 514.5 V516.3 M351.5 514.5 V516.3 M356.5 514.5 V516.3 M361.5 514.5 V516.3 M366.5 514.5 V516.3 M371.5 514.5 V516.3 M376.5 514.5 V516.3 M381.5 514.5 V516.3 M386.5 514.5 V516.3 M391.5 514.5 V516.3 M396.5 514.5 V516.3 M401.5 514.5 V516.3 M406.5 514.5 V516.3 M411.5 514.5 V516.3 M416.5 514.5 V516.3 M421.5 514.5 V516.3 M426.5 514.5 V516.3 M431.5 514.5 V516.3 M436.5 514.5 V516.3 M441.5 514.5 V516.3 M446.5 514.5 V516.3 M451.5 514.5 V516.3 M456.5 514.5 V516.3 M461.5 514.5 V516.3 M466.5 514.5 V516.3 M471.5 514.5 V516.3 M476.5 514.5 V516.3 M481.5 514.5 V516.3 M486.5 514.5 V516.3 M491.5 514.5 V516.3 M496.5 514.5 V516.3 M501.5 514.5 V516.3 M506.5 514.5 V516.3 M511.5 514.5 V516.3 M516.5 514.5 V516.3 M521.5 514.5 V516.3 M526.5 514.5 V516.3 M531.5 514.5 V516.3 M536.5 514.5 V516.3 M541.5 514.5 V516.3 M546.5 514.5 V516.3 M551.5 514.5 V516.3 M556.5 514.5 V516.3 M561.5 514.5 V516.3 M566.5 514.5 V516.3 M571.5 514.5 V516.3 M576.5 514.5 V516.3 M581.5 514.5 V516.3 M586.5 514.5 V516.3 M591.5 514.5 V516.3 M596.5 514.5 V516.3 M601.5 514.5 V516.3 M606.5 514.5 V516.3 M611.5 514.5 V516.3 M616.5 514.5 V516.3 M621.5 514.5 V516.3 M626.5 514.5 V516.3 M631.5 514.5 V516.3 M636.5 514.5 V516.3 M641.5 514.5 V516.3 M646.5 514.5 V516.3" stroke="#bbb" stroke-width="1"/>
<text x="4" y="413.8" font-size="10.5" fill="#000" font-family="'Liberation Sans', sans-serif" font-weight="bold" textLength="23" lengthAdjust="spacingAndGlyphs" >2010</text>
<text x="41.5" y="413.8" font-size="10" fill="#000" font-family="'Liberation Sans', sans-serif" text-anchor="middle" >11</text>
<text x="66.5" y="413.8" font-size="10" fill="#000" font-family="'Liberation Sans', sans-serif" text-anchor="middle" >19</text>
<text x="86.5" y="413.8" font-size="10" fill="#000" font-family="'Liberation Sans', sans-serif" text-anchor="middle" >25</text>
<text x="111.5" y="413.8" font-size="11" fill="#000" font-family="'Liberation Sans', sans-serif" text-anchor="middle" font-weight="bold" >Feb</text>
<text x="136.5" y="413.8" font-size="10" fill="#000" font-family="'Liberation Sans', sans-serif" text-anchor="middle" >8</text>
<text x="161.5" y="413.8" font-size="10" fill="#000" font-family="'Liberation Sans', sans-serif" text-anchor="middle" >16</text>
<text x="181.5" y="413.8" font-size="10" fill="#000" font-family="'Liberation Sans', sans-serif" text-anchor="middle" >22</text>
<text x="206.5" y="413.8" font-size="11" fill="#000" font-family="'Liberation Sans', sans-serif" text-anchor="middle" font-weight="bold" >Mar</text>
<text x="231.5" y="413.8" font-size="10" fill="#000" font-family="'Liberation Sans', sans-serif" text-anchor="middle" >8</text>
<text x="256.5" y="413.8" font-size="10" fill="#000" font-family="'Liberation Sans', sans-serif" text-anchor="middle" >15</text>
<text x="281.5" y="413.8" font-size="10" fill="#000" font-family="'Liberation Sans', sans-serif" text-anchor="middle" >22</text>
<text x="306.5" y="413.8" font-size="10" fill="#000" font-family="'Liberation Sans', sans-serif" text-anchor="middle" >29</text>
<text x="321.5" y="413.8" font-size="11" fill="#000" font-family="'Liberation Sans', sans-serif" text-anchor="middle" font-weight="bold" >Apr</text>
<text x="351.5" y="413.8" font-size="10" fill="#000" font-family="'Liberation Sans', sans-serif" text-anchor="middle" >12</text>
<text x="376.5" y="413.8" font-size="10" fill="#000" font-family="'Liberation Sans', sans-serif" text-anchor="middle" >19</text>
<text x="401.5" y="413.8" font-size="10" fill="#000" font-family="'Liberation Sans', sans-serif" text-anchor="middle" >26</text>
<text x="426.5" y="413.8" font-size="11" fill="#000" font-family="'Liberation Sans', sans-serif" text-anchor="middle" font-weight="bold" >May</text>
<text x="451.5" y="413.8" font-size="10" fill="#000" font-family="'Liberation Sans', sans-serif" text-anchor="middle" >10</text>
<text x="476.5" y="413.8" font-size="10" fill="#000" font-family="'Liberation Sans', sans-serif" text-anchor="middle" >17</text>
<text x="501.5" y="413.8" font-size="10" fill="#000" font-family="'Liberation Sans', sans-serif" text-anchor="middle" >24</text>
<text x="526.5" y="413.8" font-size="11" fill="#000" font-family="'Liberation Sans', sans-serif" text-anchor="middle" font-weight="bold" >Jun</text>
<text x="546.5" y="413.8" font-size="10" fill="#000" font-family="'Liberation Sans', sans-serif" text-anchor="middle" >7</text>
<text x="571.5" y="413.8" font-size="10" fill="#000" font-family="'Liberation Sans', sans-serif" text-anchor="middle" >14</text>
<text x="596.5" y="413.8" font-size="10" fill="#000" font-family="'Liberation Sans', sans-serif" text-anchor="middle" >21</text>
<text x="621.5" y="413.8" font-size="10" fill="#000" font-family="'Liberation Sans', sans-serif" text-anchor="middle" >28</text>
<text x="636.5" y="413.8" font-size="11" fill="#000" font-family="'Liberation Sans', sans-serif" text-anchor="middle" font-weight="bold" >Jul</text>
<text x="646.5" y="413.8" font-size="10" fill="#000" font-family="'Liberation Sans', sans-serif" text-anchor="middle" >6</text>
<text x="4" y="524.3" font-size="10.5" fill="#000" font-family="'Liberation Sans', sans-serif" font-weight="bold" textLength="23" lengthAdjust="spacingAndGlyphs" >2010</text>
<text x="41.5" y="524.3" font-size="10" fill="#000" font-family="'Liberation Sans', sans-serif" text-anchor="middle" >11</text>
<text x="66.5" y="524.3" font-size="10" fill="#000" font-family="'Liberation Sans', sans-serif" text-anchor="middle" >19</text>
<text x="86.5" y="524.3" font-size="10" fill="#000" font-family="'Liberation Sans', sans-serif" text-anchor="middle" >25</text>
<text x="111.5" y="524.3" font-size="11" fill="#000" font-family="'Liberation Sans', sans-serif" text-anchor="middle" font-weight="bold" >Feb</text>
<text x="136.5" y="524.3" font-size="10" fill="#000" font-family="'Liberation Sans', sans-serif" text-anchor="middle" >8</text>
<text x="161.5" y="524.3" font-size="10" fill="#000" font-family="'Liberation Sans', sans-serif" text-anchor="middle" >16</text>
<text x="181.5" y="524.3" font-size="10" fill="#000" font-family="'Liberation Sans', sans-serif" text-anchor="middle" >22</text>
<text x="206.5" y="524.3" font-size="11" fill="#000" font-family="'Liberation Sans', sans-serif" text-anchor="middle" font-weight="bold" >Mar</text>
<text x="231.5" y="524.3" font-size="10" fill="#000" font-family="'Liberation Sans', sans-serif" text-anchor="middle" >8</text>
<text x="256.5" y="524.3" font-size="10" fill="#000" font-family="'Liberation Sans', sans-serif" text-anchor="middle" >15</text>
<text x="281.5" y="524.3" font-size="10" fill="#000" font-family="'Liberation Sans', sans-serif" text-anchor="middle" >22</text>
<text x="306.5" y="524.3" font-size="10" fill="#000" font-family="'Liberation Sans', sans-serif" text-anchor="middle" >29</text>
<text x="321.5" y="524.3" font-size="11" fill="#000" font-family="'Liberation Sans', sans-serif" text-anchor="middle" font-weight="bold" >Apr</text>
<text x="351.5" y="524.3" font-size="10" fill="#000" font-family="'Liberation Sans', sans-serif" text-anchor="middle" >12</text>
<text x="376.5" y="524.3" font-size="10" fill="#000" font-family="'Liberation Sans', sans-serif" text-anchor="middle" >19</text>
<text x="401.5" y="524.3" font-size="10" fill="#000" font-family="'Liberation Sans', sans-serif" text-anchor="middle" >26</text>
<text x="426.5" y="524.3" font-size="11" fill="#000" font-family="'Liberation Sans', sans-serif" text-anchor="middle" font-weight="bold" >May</text>
<text x="451.5" y="524.3" font-size="10" fill="#000" font-family="'Liberation Sans', sans-serif" text-anchor="middle" >10</text>
<text x="476.5" y="524.3" font-size="10" fill="#000" font-family="'Liberation Sans', sans-serif" text-anchor="middle" >17</text>
<text x="501.5" y="524.3" font-size="10" fill="#000" font-family="'Liberation Sans', sans-serif" text-anchor="middle" >24</text>
<text x="526.5" y="524.3" font-size="11" fill="#000" font-family="'Liberation Sans', sans-serif" text-anchor="middle" font-weight="bold" >Jun</text>
<text x="546.5" y="524.3" font-size="10" fill="#000" font-family="'Liberation Sans', sans-serif" text-anchor="middle" >7</text>
<text x="571.5" y="524.3" font-size="10" fill="#000" font-family="'Liberation Sans', sans-serif" text-anchor="middle" >14</text>
<text x="596.5" y="524.3" font-size="10" fill="#000" font-family="'Liberation Sans', sans-serif" text-anchor="middle" >21</text>
<text x="621.5" y="524.3" font-size="10" fill="#000" font-family="'Liberation Sans', sans-serif" text-anchor="middle" >28</text>
<text x="636.5" y="524.3" font-size="11" fill="#000" font-family="'Liberation Sans', sans-serif" text-anchor="middle" font-weight="bold" >Jul</text>
<text x="646.5" y="524.3" font-size="10" fill="#000" font-family="'Liberation Sans', sans-serif" text-anchor="middle" >6</text>
<rect x="41" y="528" width="1" height="2" fill="#ddd"/>
<rect x="66" y="528" width="1" height="2" fill="#ddd"/>
<rect x="86" y="528" width="1" height="2" fill="#ddd"/>
<rect x="136" y="528" width="1" height="2" fill="#ddd"/>
<rect x="161" y="528" width="1" height="2" fill="#ddd"/>
<rect x="181" y="528" width="1" height="2" fill="#ddd"/>
<rect x="231" y="528" width="1" height="2" fill="#ddd"/>
<rect x="256" y="528" width="1" height="2" fill="#ddd"/>
<rect x="281" y="528" width="1" height="2" fill="#ddd"/>
<rect x="306" y="528" width="1" height="2" fill="#ddd"/>
<rect x="326" y="528" width="1" height="2" fill="#ddd"/>
<rect x="351" y="528" width="1" height="2" fill="#ddd"/>
<rect x="376" y="528" width="1" height="2" fill="#ddd"/>
<rect x="401" y="528" width="1" height="2" fill="#ddd"/>
<rect x="451" y="528" width="1" height="2" fill="#ddd"/>
<rect x="476" y="528" width="1" height="2" fill="#ddd"/>
<rect x="501" y="528" width="1" height="2" fill="#ddd"/>
<rect x="546" y="528" width="1" height="2" fill="#ddd"/>
<rect x="571" y="528" width="1" height="2" fill="#ddd"/>
<rect x="596" y="528" width="1" height="2" fill="#ddd"/>
<rect x="621" y="528" width="1" height="2" fill="#ddd"/>
<rect x="646" y="528" width="1" height="2" fill="#ddd"/>
<rect x="111" y="528" width="1" height="2" fill="#ddd"/>
<rect x="206" y="528" width="1" height="2" fill="#ddd"/>
<rect x="321" y="528" width="1" height="2" fill="#ddd"/>
<rect x="426" y="528" width="1" height="2" fill="#ddd"/>
<rect x="526" y="528" width="1" height="2" fill="#ddd"/>
<rect x="636" y="528" width="1" height="2" fill="#ddd"/>
<line x1="16.5" y1="429.5" x2="653.5" y2="429.5" stroke="#dedede" stroke-width="1" />
<line x1="16.5" y1="481.5" x2="653.5" y2="481.5" stroke="#dedede" stroke-width="1" />
<line x1="16.5" y1="506.5" x2="653.5" y2="506.5" stroke="#dedede" stroke-width="1" />
<line x1="41.5" y1="417.5" x2="41.5" y2="514.5" stroke="#dedede" stroke-width="1"/>
<line x1="66.5" y1="417.5" x2="66.5" y2="514.5" stroke="#dedede" stroke-width="1"/>
<line x1="86.5" y1="417.5" x2="86.5" y2="514.5" stroke="#dedede" stroke-width="1"/>
<line x1="136.5" y1="417.5" x2="136.5" y2="514.5" stroke="#dedede" stroke-width="1"/>
<line x1="161.5" y1="417.5" x2="161.5" y2="514.5" stroke="#dedede" stroke-width="1"/>
<line x1="181.5" y1="417.5" x2="181.5" y2="514.5" stroke="#dedede" stroke-width="1"/>
<line x1="231.5" y1="417.5" x2="231.5" y2="514.5" stroke="#dedede" stroke-width="1"/>
<line x1="256.5" y1="417.5" x2="256.5" y2="514.5" stroke="#dedede" stroke-width="1"/>
<line x1="281.5" y1="417.5" x2="281.5" y2="514.5" stroke="#dedede" stroke-width="1"/>
<line x1="306.5" y1="417.5" x2="306.5" y2="514.5" stroke="#dedede" stroke-width="1"/>
<line x1="326.5" y1="417.5" x2="326.5" y2="514.5" stroke="#dedede" stroke-width="1"/>
<line x1="351.5" y1="417.5" x2="351.5" y2="514.5" stroke="#dedede" stroke-width="1"/>
<line x1="376.5" y1="417.5" x2="376.5" y2="514.5" stroke="#dedede" stroke-width="1"/>
<line x1="401.5" y1="417.5" x2="401.5" y2="514.5" stroke="#dedede" stroke-width="1"/>
<line x1="451.5" y1="417.5" x2="451.5" y2="514.5" stroke="#dedede" stroke-width="1"/>
<line x1="476.5" y1="417.5" x2="476.5" y2="514.5" stroke="#dedede" stroke-width="1"/>
<line x1="501.5" y1="417.5" x2="501.5" y2="514.5" stroke="#dedede" stroke-width="1"/>
<line x1="546.5" y1="417.5" x2="546.5" y2="514.5" stroke="#dedede" stroke-width="1"/>
<line x1="571.5" y1="417.5" x2="571.5" y2="514.5" stroke="#dedede" stroke-width="1"/>
<line x1="596.5" y1="417.5" x2="596.5" y2="514.5" stroke="#dedede" stroke-width="1"/>
<line x1="621.5" y1="417.5" x2="621.5" y2="514.5" stroke="#dedede" stroke-width="1"/>
<line x1="646.5" y1="417.5" x2="646.5" y2="514.5" stroke="#dedede" stroke-width="1"/>
<line x1="111.5" y1="417.5" x2="111.5" y2="514.5" stroke="#bababa" stroke-width="1"/>
<line x1="206.5" y1="417.5" x2="206.5" y2="514.5" stroke="#bababa" stroke-width="1"/>
<line x1="321.5" y1="417.5" x2="321.5" y2="514.5" stroke="#bababa" stroke-width="1"/>
<line x1="426.5" y1="417.5" x2="426.5" y2="514.5" stroke="#bababa" stroke-width="1"/>
<line x1="526.5" y1="417.5" x2="526.5" y2="514.5" stroke="#bababa" stroke-width="1"/>
<line x1="636.5" y1="417.5" x2="636.5" y2="514.5" stroke="#bababa" stroke-width="1"/>
<rect x="16.5" y="417.5" width="637.0" height="97.0" fill="none" stroke="#bdbdbd"/>
<rect x="17" y="455" width="636" height="1" fill="#2a5c9c"/>
<g fill="#5aa8d6" shape-rendering="crispEdges"><rect x="17" y="453" width="3" height="3"/><rect x="19" y="453" width="6" height="3"/><rect x="24" y="452" width="6" height="4"/><rect x="29" y="451" width="6" height="5"/><rect x="34" y="451" width="6" height="5"/><rect x="39" y="451" width="6" height="5"/><rect x="44" y="452" width="6" height="4"/><rect x="49" y="452" width="6" height="4"/><rect x="54" y="453" width="6" height="3"/><rect x="69" y="455" width="6" height="2"/><rect x="74" y="455" width="6" height="5"/><rect x="79" y="455" width="6" height="9"/><rect x="84" y="455" width="6" height="10"/><rect x="89" y="455" width="6" height="12"/><rect x="94" y="455" width="6" height="12"/><rect x="99" y="455" width="6" height="12"/><rect x="104" y="455" width="6" height="12"/><rect x="109" y="455" width="6" height="11"/><rect x="114" y="455" width="6" height="8"/><rect x="119" y="455" width="6" height="7"/><rect x="124" y="455" width="6" height="8"/><rect x="129" y="455" width="6" height="8"/><rect x="134" y="455" width="6" height="9"/><rect x="139" y="455" width="6" height="7"/><rect x="144" y="455" width="6" height="6"/><rect x="149" y="455" width="6" height="4"/><rect x="154" y="455" width="6" height="2"/><rect x="159" y="454" width="6" height="2"/><rect x="164" y="451" width="6" height="5"/><rect x="169" y="449" width="6" height="7"/><rect x="174" y="448" width="6" height="8"/><rect x="179" y="447" width="6" height="9"/><rect x="184" y="449" width="6" height="7"/><rect x="189" y="450" width="6" height="6"/><rect x="194" y="450" width="6" height="6"/><rect x="199" y="449" width="6" height="7"/><rect x="204" y="449" width="6" height="7"/><rect x="209" y="448" width="6" height="8"/><rect x="214" y="448" width="6" height="8"/><rect x="219" y="448" width="6" height="8"/><rect x="224" y="447" width="6" height="9"/><rect x="229" y="446" width="6" height="10"/><rect x="234" y="446" width="6" height="10"/><rect x="239" y="446" width="6" height="10"/><rect x="244" y="445" width="6" height="11"/><rect x="249" y="446" width="6" height="10"/><rect x="254" y="447" width="6" height="9"/><rect x="259" y="447" width="6" height="9"/><rect x="264" y="448" width="6" height="8"/><rect x="269" y="449" width="6" height="7"/><rect x="274" y="452" width="6" height="4"/><rect x="279" y="453" width="6" height="3"/><rect x="284" y="454" width="6" height="2"/><rect x="289" y="454" width="6" height="2"/><rect x="299" y="455" width="6" height="2"/><rect x="304" y="455" width="6" height="2"/><rect x="309" y="455" width="6" height="2"/><rect x="314" y="455" width="6" height="3"/><rect x="319" y="455" width="6" height="3"/><rect x="324" y="455" width="6" height="2"/><rect x="344" y="454" width="6" height="2"/><rect x="349" y="454" width="6" height="2"/><rect x="354" y="454" width="6" height="2"/><rect x="359" y="453" width="6" height="3"/><rect x="364" y="453" width="6" height="3"/><rect x="369" y="455" width="6" height="2"/><rect x="374" y="455" width="6" height="4"/><rect x="379" y="455" width="6" height="4"/><rect x="384" y="455" width="6" height="4"/><rect x="389" y="455" width="6" height="4"/><rect x="394" y="455" width="6" height="3"/><rect x="399" y="455" width="6" height="3"/><rect x="404" y="455" width="6" height="6"/><rect x="409" y="455" width="6" height="6"/><rect x="414" y="455" width="6" height="5"/><rect x="419" y="455" width="6" height="6"/><rect x="424" y="455" width="6" height="6"/><rect x="429" y="455" width="6" height="7"/><rect x="434" y="455" width="6" height="10"/><rect x="439" y="455" width="6" height="14"/><rect x="444" y="455" width="6" height="20"/><rect x="449" y="455" width="6" height="19"/><rect x="454" y="455" width="6" height="18"/><rect x="459" y="455" width="6" height="15"/><rect x="464" y="455" width="6" height="13"/><rect x="469" y="455" width="6" height="13"/><rect x="474" y="455" width="6" height="14"/><rect x="479" y="455" width="6" height="15"/><rect x="484" y="455" width="6" height="15"/><rect x="489" y="455" width="6" height="18"/><rect x="494" y="455" width="6" height="15"/><rect x="499" y="455" width="6" height="14"/><rect x="504" y="455" width="6" height="12"/><rect x="509" y="455" width="6" height="9"/><rect x="514" y="455" width="6" height="4"/><rect x="519" y="455" width="6" height="2"/><rect x="524" y="455" width="6" height="3"/><rect x="529" y="454" width="6" height="2"/><rect x="534" y="452" width="6" height="4"/><rect x="539" y="453" width="6" height="3"/><rect x="549" y="454" width="6" height="2"/><rect x="554" y="453" width="6" height="3"/><rect x="559" y="451" width="6" height="5"/><rect x="564" y="448" width="6" height="8"/><rect x="569" y="446" width="6" height="10"/><rect x="574" y="443" width="6" height="13"/><rect x="579" y="443" width="6" height="13"/><rect x="584" y="443" width="6" height="13"/><rect x="589" y="443" width="6" height="13"/><rect x="594" y="443" width="6" height="13"/><rect x="599" y="446" width="6" height="10"/><rect x="604" y="448" width="6" height="8"/><rect x="609" y="451" width="6" height="5"/><rect x="614" y="451" width="6" height="5"/><rect x="619" y="452" width="6" height="4"/><rect x="629" y="455" width="6" height="3"/><rect x="634" y="455" width="6" height="5"/><rect x="639" y="455" width="6" height="7"/><rect x="644" y="455" width="6" height="7"/></g>
<g fill="#2a5c9c" shape-rendering="crispEdges"><rect x="17" y="453" width="3" height="1"/><rect x="19" y="453" width="1" height="2"/><rect x="19" y="453" width="6" height="1"/><rect x="19" y="453" width="1" height="2"/><rect x="24" y="453" width="1" height="2"/><rect x="24" y="452" width="6" height="1"/><rect x="24" y="452" width="1" height="3"/><rect x="29" y="452" width="1" height="3"/><rect x="29" y="451" width="6" height="1"/><rect x="29" y="451" width="1" height="4"/><rect x="34" y="451" width="1" height="4"/><rect x="34" y="451" width="6" height="1"/><rect x="34" y="451" width="1" height="4"/><rect x="39" y="451" width="1" height="4"/><rect x="39" y="451" width="6" height="1"/><rect x="39" y="451" width="1" height="4"/><rect x="44" y="451" width="1" height="4"/><rect x="44" y="452" width="6" height="1"/><rect x="44" y="452" width="1" height="3"/><rect x="49" y="452" width="1" height="3"/><rect x="49" y="452" width="6" height="1"/><rect x="49" y="452" width="1" height="3"/><rect x="54" y="452" width="1" height="3"/><rect x="54" y="453" width="6" height="1"/><rect x="54" y="453" width="1" height="2"/><rect x="59" y="453" width="1" height="2"/><rect x="69" y="456" width="6" height="1"/><rect x="69" y="456" width="1" height="1"/><rect x="74" y="456" width="1" height="1"/><rect x="74" y="459" width="6" height="1"/><rect x="74" y="456" width="1" height="4"/><rect x="79" y="456" width="1" height="4"/><rect x="79" y="463" width="6" height="1"/><rect x="79" y="456" width="1" height="8"/><rect x="84" y="456" width="1" height="8"/><rect x="84" y="464" width="6" height="1"/><rect x="84" y="456" width="1" height="9"/><rect x="89" y="456" width="1" height="9"/><rect x="89" y="466" width="6" height="1"/><rect x="89" y="456" width="1" height="11"/><rect x="94" y="456" width="1" height="11"/><rect x="94" y="466" width="6" height="1"/><rect x="94" y="456" width="1" height="11"/><rect x="99" y="456" width="1" height="11"/><rect x="99" y="466" width="6" height="1"/><rect x="99" y="456" width="1" height="11"/><rect x="104" y="456" width="1" height="11"/><rect x="104" y="466" width="6" height="1"/><rect x="104" y="456" width="1" height="11"/><rect x="109" y="456" width="1" height="11"/><rect x="109" y="465" width="6" height="1"/><rect x="109" y="456" width="1" height="10"/><rect x="114" y="456" width="1" height="10"/><rect x="114" y="462" width="6" height="1"/><rect x="114" y="456" width="1" height="7"/><rect x="119" y="456" width="1" height="7"/><rect x="119" y="461" width="6" height="1"/><rect x="119" y="456" width="1" height="6"/><rect x="124" y="456" width="1" height="6"/><rect x="124" y="462" width="6" height="1"/><rect x="124" y="456" width="1" height="7"/><rect x="129" y="456" width="1" height="7"/><rect x="129" y="462" width="6" height="1"/><rect x="129" y="456" width="1" height="7"/><rect x="134" y="456" width="1" height="7"/><rect x="134" y="463" width="6" height="1"/><rect x="134" y="456" width="1" height="8"/><rect x="139" y="456" width="1" height="8"/><rect x="139" y="461" width="6" height="1"/><rect x="139" y="456" width="1" height="6"/><rect x="144" y="456" width="1" height="6"/><rect x="144" y="460" width="6" height="1"/><rect x="144" y="456" width="1" height="5"/><rect x="149" y="456" width="1" height="5"/><rect x="149" y="458" width="6" height="1"/><rect x="149" y="456" width="1" height="3"/><rect x="154" y="456" width="1" height="3"/><rect x="154" y="456" width="6" height="1"/><rect x="154" y="456" width="1" height="1"/><rect x="159" y="456" width="1" height="1"/><rect x="159" y="454" width="6" height="1"/><rect x="159" y="454" width="1" height="1"/><rect x="164" y="454" width="1" height="1"/><rect x="164" y="451" width="6" height="1"/><rect x="164" y="451" width="1" height="4"/><rect x="169" y="451" width="1" height="4"/><rect x="169" y="449" width="6" height="1"/><rect x="169" y="449" width="1" height="6"/><rect x="174" y="449" width="1" height="6"/><rect x="174" y="448" width="6" height="1"/><rect x="174" y="448" width="1" height="7"/><rect x="179" y="448" width="1" height="7"/><rect x="179" y="447" width="6" height="1"/><rect x="179" y="447" width="1" height="8"/><rect x="184" y="447" width="1" height="8"/><rect x="184" y="449" width="6" height="1"/><rect x="184" y="449" width="1" height="6"/><rect x="189" y="449" width="1" height="6"/><rect x="189" y="450" width="6" height="1"/><rect x="189" y="450" width="1" height="5"/><rect x="194" y="450" width="1" height="5"/><rect x="194" y="450" width="6" height="1"/><rect x="194" y="450" width="1" height="5"/><rect x="199" y="450" width="1" height="5"/><rect x="199" y="449" width="6" height="1"/><rect x="199" y="449" width="1" height="6"/><rect x="204" y="449" width="1" height="6"/><rect x="204" y="449" width="6" height="1"/><rect x="204" y="449" width="1" height="6"/><rect x="209" y="449" width="1" height="6"/><rect x="209" y="448" width="6" height="1"/><rect x="209" y="448" width="1" height="7"/><rect x="214" y="448" width="1" height="7"/><rect x="214" y="448" width="6" height="1"/><rect x="214" y="448" width="1" height="7"/><rect x="219" y="448" width="1" height="7"/><rect x="219" y="448" width="6" height="1"/><rect x="219" y="448" width="1" height="7"/><rect x="224" y="448" width="1" height="7"/><rect x="224" y="447" width="6" height="1"/><rect x="224" y="447" width="1" height="8"/><rect x="229" y="447" width="1" height="8"/><rect x="229" y="446" width="6" height="1"/><rect x="229" y="446" width="1" height="9"/><rect x="234" y="446" width="1" height="9"/><rect x="234" y="446" width="6" height="1"/><rect x="234" y="446" width="1" height="9"/><rect x="239" y="446" width="1" height="9"/><rect x="239" y="446" width="6" height="1"/><rect x="239" y="446" width="1" height="9"/><rect x="244" y="446" width="1" height="9"/><rect x="244" y="445" width="6" height="1"/><rect x="244" y="445" width="1" height="10"/><rect x="249" y="445" width="1" height="10"/><rect x="249" y="446" width="6" height="1"/><rect x="249" y="446" width="1" height="9"/><rect x="254" y="446" width="1" height="9"/><rect x="254" y="447" width="6" height="1"/><rect x="254" y="447" width="1" height="8"/><rect x="259" y="447" width="1" height="8"/><rect x="259" y="447" width="6" height="1"/><rect x="259" y="447" width="1" height="8"/><rect x="264" y="447" width="1" height="8"/><rect x="264" y="448" width="6" height="1"/><rect x="264" y="448" width="1" height="7"/><rect x="269" y="448" width="1" height="7"/><rect x="269" y="449" width="6" height="1"/><rect x="269" y="449" width="1" height="6"/><rect x="274" y="449" width="1" height="6"/><rect x="274" y="452" width="6" height="1"/><rect x="274" y="452" width="1" height="3"/><rect x="279" y="452" width="1" height="3"/><rect x="279" y="453" width="6" height="1"/><rect x="279" y="453" width="1" height="2"/><rect x="284" y="453" width="1" height="2"/><rect x="284" y="454" width="6" height="1"/><rect x="284" y="454" width="1" height="1"/><rect x="289" y="454" width="1" height="1"/><rect x="289" y="454" width="6" height="1"/><rect x="289" y="454" width="1" height="1"/><rect x="294" y="454" width="1" height="1"/><rect x="299" y="456" width="6" height="1"/><rect x="299" y="456" width="1" height="1"/><rect x="304" y="456" width="1" height="1"/><rect x="304" y="456" width="6" height="1"/><rect x="304" y="456" width="1" height="1"/><rect x="309" y="456" width="1" height="1"/><rect x="309" y="456" width="6" height="1"/><rect x="309" y="456" width="1" height="1"/><rect x="314" y="456" width="1" height="1"/><rect x="314" y="457" width="6" height="1"/><rect x="314" y="456" width="1" height="2"/><rect x="319" y="456" width="1" height="2"/><rect x="319" y="457" width="6" height="1"/><rect x="319" y="456" width="1" height="2"/><rect x="324" y="456" width="1" height="2"/><rect x="324" y="456" width="6" height="1"/><rect x="324" y="456" width="1" height="1"/><rect x="329" y="456" width="1" height="1"/><rect x="344" y="454" width="6" height="1"/><rect x="344" y="454" width="1" height="1"/><rect x="349" y="454" width="1" height="1"/><rect x="349" y="454" width="6" height="1"/><rect x="349" y="454" width="1" height="1"/><rect x="354" y="454" width="1" height="1"/><rect x="354" y="454" width="6" height="1"/><rect x="354" y="454" width="1" height="1"/><rect x="359" y="454" width="1" height="1"/><rect x="359" y="453" width="6" height="1"/><rect x="359" y="453" width="1" height="2"/><rect x="364" y="453" width="1" height="2"/><rect x="364" y="453" width="6" height="1"/><rect x="364" y="453" width="1" height="2"/><rect x="369" y="453" width="1" height="2"/><rect x="369" y="456" width="6" height="1"/><rect x="369" y="456" width="1" height="1"/><rect x="374" y="456" width="1" height="1"/><rect x="374" y="458" width="6" height="1"/><rect x="374" y="456" width="1" height="3"/><rect x="379" y="456" width="1" height="3"/><rect x="379" y="458" width="6" height="1"/><rect x="379" y="456" width="1" height="3"/><rect x="384" y="456" width="1" height="3"/><rect x="384" y="458" width="6" height="1"/><rect x="384" y="456" width="1" height="3"/><rect x="389" y="456" width="1" height="3"/><rect x="389" y="458" width="6" height="1"/><rect x="389" y="456" width="1" height="3"/><rect x="394" y="456" width="1" height="3"/><rect x="394" y="457" width="6" height="1"/><rect x="394" y="456" width="1" height="2"/><rect x="399" y="456" width="1" height="2"/><rect x="399" y="457" width="6" height="1"/><rect x="399" y="456" width="1" height="2"/><rect x="404" y="456" width="1" height="2"/><rect x="404" y="460" width="6" height="1"/><rect x="404" y="456" width="1" height="5"/><rect x="409" y="456" width="1" height="5"/><rect x="409" y="460" width="6" height="1"/><rect x="409" y="456" width="1" height="5"/><rect x="414" y="456" width="1" height="5"/><rect x="414" y="459" width="6" height="1"/><rect x="414" y="456" width="1" height="4"/><rect x="419" y="456" width="1" height="4"/><rect x="419" y="460" width="6" height="1"/><rect x="419" y="456" width="1" height="5"/><rect x="424" y="456" width="1" height="5"/><rect x="424" y="460" width="6" height="1"/><rect x="424" y="456" width="1" height="5"/><rect x="429" y="456" width="1" height="5"/><rect x="429" y="461" width="6" height="1"/><rect x="429" y="456" width="1" height="6"/><rect x="434" y="456" width="1" height="6"/><rect x="434" y="464" width="6" height="1"/><rect x="434" y="456" width="1" height="9"/><rect x="439" y="456" width="1" height="9"/><rect x="439" y="468" width="6" height="1"/><rect x="439" y="456" width="1" height="13"/><rect x="444" y="456" width="1" height="13"/><rect x="444" y="474" width="6" height="1"/><rect x="444" y="456" width="1" height="19"/><rect x="449" y="456" width="1" height="19"/><rect x="449" y="473" width="6" height="1"/><rect x="449" y="456" width="1" height="18"/><rect x="454" y="456" width="1" height="18"/><rect x="454" y="472" width="6" height="1"/><rect x="454" y="456" width="1" height="17"/><rect x="459" y="456" width="1" height="17"/><rect x="459" y="469" width="6" height="1"/><rect x="459" y="456" width="1" height="14"/><rect x="464" y="456" width="1" height="14"/><rect x="464" y="467" width="6" height="1"/><rect x="464" y="456" width="1" height="12"/><rect x="469" y="456" width="1" height="12"/><rect x="469" y="467" width="6" height="1"/><rect x="469" y="456" width="1" height="12"/><rect x="474" y="456" width="1" height="12"/><rect x="474" y="468" width="6" height="1"/><rect x="474" y="456" width="1" height="13"/><rect x="479" y="456" width="1" height="13"/><rect x="479" y="469" width="6" height="1"/><rect x="479" y="456" width="1" height="14"/><rect x="484" y="456" width="1" height="14"/><rect x="484" y="469" width="6" height="1"/><rect x="484" y="456" width="1" height="14"/><rect x="489" y="456" width="1" height="14"/><rect x="489" y="472" width="6" height="1"/><rect x="489" y="456" width="1" height="17"/><rect x="494" y="456" width="1" height="17"/><rect x="494" y="469" width="6" height="1"/><rect x="494" y="456" width="1" height="14"/><rect x="499" y="456" width="1" height="14"/><rect x="499" y="468" width="6" height="1"/><rect x="499" y="456" width="1" height="13"/><rect x="504" y="456" width="1" height="13"/><rect x="504" y="466" width="6" height="1"/><rect x="504" y="456" width="1" height="11"/><rect x="509" y="456" width="1" height="11"/><rect x="509" y="463" width="6" height="1"/><rect x="509" y="456" width="1" height="8"/><rect x="514" y="456" width="1" height="8"/><rect x="514" y="458" width="6" height="1"/><rect x="514" y="456" width="1" height="3"/><rect x="519" y="456" width="1" height="3"/><rect x="519" y="456" width="6" height="1"/><rect x="519" y="456" width="1" height="1"/><rect x="524" y="456" width="1" height="1"/><rect x="524" y="457" width="6" height="1"/><rect x="524" y="456" width="1" height="2"/><rect x="529" y="456" width="1" height="2"/><rect x="529" y="454" width="6" height="1"/><rect x="529" y="454" width="1" height="1"/><rect x="534" y="454" width="1" height="1"/><rect x="534" y="452" width="6" height="1"/><rect x="534" y="452" width="1" height="3"/><rect x="539" y="452" width="1" height="3"/><rect x="539" y="453" width="6" height="1"/><rect x="539" y="453" width="1" height="2"/><rect x="544" y="453" width="1" height="2"/><rect x="549" y="454" width="6" height="1"/><rect x="549" y="454" width="1" height="1"/><rect x="554" y="454" width="1" height="1"/><rect x="554" y="453" width="6" height="1"/><rect x="554" y="453" width="1" height="2"/><rect x="559" y="453" width="1" height="2"/><rect x="559" y="451" width="6" height="1"/><rect x="559" y="451" width="1" height="4"/><rect x="564" y="451" width="1" height="4"/><rect x="564" y="448" width="6" height="1"/><rect x="564" y="448" width="1" height="7"/><rect x="569" y="448" width="1" height="7"/><rect x="569" y="446" width="6" height="1"/><rect x="569" y="446" width="1" height="9"/><rect x="574" y="446" width="1" height="9"/><rect x="574" y="443" width="6" height="1"/><rect x="574" y="443" width="1" height="12"/><rect x="579" y="443" width="1" height="12"/><rect x="579" y="443" width="6" height="1"/><rect x="579" y="443" width="1" height="12"/><rect x="584" y="443" width="1" height="12"/><rect x="584" y="443" width="6" height="1"/><rect x="584" y="443" width="1" height="12"/><rect x="589" y="443" width="1" height="12"/><rect x="589" y="443" width="6" height="1"/><rect x="589" y="443" width="1" height="12"/><rect x="594" y="443" width="1" height="12"/><rect x="594" y="443" width="6" height="1"/><rect x="594" y="443" width="1" height="12"/><rect x="599" y="443" width="1" height="12"/><rect x="599" y="446" width="6" height="1"/><rect x="599" y="446" width="1" height="9"/><rect x="604" y="446" width="1" height="9"/><rect x="604" y="448" width="6" height="1"/><rect x="604" y="448" width="1" height="7"/><rect x="609" y="448" width="1" height="7"/><rect x="609" y="451" width="6" height="1"/><rect x="609" y="451" width="1" height="4"/><rect x="614" y="451" width="1" height="4"/><rect x="614" y="451" width="6" height="1"/><rect x="614" y="451" width="1" height="4"/><rect x="619" y="451" width="1" height="4"/><rect x="619" y="452" width="6" height="1"/><rect x="619" y="452" width="1" height="3"/><rect x="624" y="452" width="1" height="3"/><rect x="629" y="457" width="6" height="1"/><rect x="629" y="456" width="1" height="2"/><rect x="634" y="456" width="1" height="2"/><rect x="634" y="459" width="6" height="1"/><rect x="634" y="456" width="1" height="4"/><rect x="639" y="456" width="1" height="4"/><rect x="639" y="461" width="6" height="1"/><rect x="639" y="456" width="1" height="6"/><rect x="644" y="456" width="1" height="6"/><rect x="644" y="461" width="6" height="1"/><rect x="644" y="456" width="1" height="6"/><rect x="649" y="456" width="1" height="6"/></g>
<polyline fill="none" stroke="#ff1a1a" stroke-width="1.2" points="16.5,441.2 21.5,441.6 26.5,440.5 31.5,439.2 36.5,438.3 41.5,437.3 46.5,437.1 51.5,436.4 56.5,435.5 61.5,435.8 66.5,436.2 71.5,436.4 76.5,437.7 81.5,439.4 86.5,441.4 91.5,444.5 96.5,447.4 101.5,450.0 106.5,452.9 111.5,455.9 116.5,457.7 121.5,459.5 126.5,461.2 131.5,463.0 136.5,464.8 141.5,466.6 146.5,467.6 151.5,468.5 156.5,468.5 161.5,468.1 166.5,467.0 171.5,465.7 176.5,463.6 181.5,461.6 186.5,459.9 191.5,458.3 196.5,456.7 201.5,455.2 206.5,453.7 211.5,452.2 216.5,450.7 221.5,449.5 226.5,447.8 231.5,445.5 236.5,443.2 241.5,440.8 246.5,438.5 251.5,436.3 256.5,434.6 261.5,432.8 266.5,431.1 271.5,429.4 276.5,427.9 281.5,427.1 286.5,426.9 291.5,427.3 296.5,428.1 301.5,428.7 306.5,429.2 311.5,429.7 316.5,430.2 321.5,430.6 326.5,431.1 331.5,431.6 336.5,431.4 341.5,431.2 346.5,430.8 351.5,430.3 356.5,430.1 361.5,430.1 366.5,430.1 371.5,430.5 376.5,431.1 381.5,431.6 386.5,432.3 391.5,433.4 396.5,434.1 401.5,434.4 406.5,435.8 411.5,437.2 416.5,438.3 421.5,439.5 426.5,440.7 431.5,442.7 436.5,445.2 441.5,448.7 446.5,452.8 451.5,457.1 456.5,461.2 461.5,464.8 466.5,468.3 471.5,472.1 476.5,476.1 481.5,480.1 486.5,484.1 491.5,487.9 496.5,491.2 501.5,494.4 506.5,496.7 511.5,498.3 516.5,499.2 521.5,499.3 526.5,499.4 531.5,498.9 536.5,498.4 541.5,497.8 546.5,497.6 551.5,497.9 556.5,498.0 561.5,496.4 566.5,494.8 571.5,493.3 576.5,490.4 581.5,487.4 586.5,484.4 591.5,481.3 596.5,478.2 601.5,476.0 606.5,474.5 611.5,473.1 616.5,472.5 621.5,472.2 626.5,472.3 631.5,473.4 636.5,474.6 641.5,476.1 646.5,477.6"/>
<polyline fill="none" stroke="#000" stroke-width="1.8" stroke-linejoin="round" points="16.5,440.4 21.5,439.0 26.5,436.9 31.5,435.0 36.5,434.1 41.5,433.3 46.5,434.0 51.5,434.2 56.5,434.5 61.5,436.0 66.5,436.3 71.5,438.1 76.5,442.0 81.5,446.7 86.5,451.3 91.5,455.1 96.5,457.5 101.5,460.5 106.5,464.2 111.5,465.2 116.5,464.1 121.5,465.6 126.5,467.3 131.5,469.5 136.5,472.1 141.5,472.3 146.5,472.4 151.5,471.4 156.5,470.3 161.5,467.4 166.5,463.4 171.5,459.6 176.5,456.7 181.5,455.1 186.5,454.0 191.5,452.9 196.5,452.0 201.5,451.0 206.5,448.6 211.5,446.6 216.5,445.2 221.5,443.3 226.5,439.9 231.5,436.7 236.5,434.2 241.5,431.9 246.5,429.7 251.5,427.7 256.5,425.9 261.5,424.9 266.5,424.0 271.5,424.3 276.5,424.6 281.5,425.1 286.5,425.7 291.5,427.6 296.5,429.4 301.5,430.1 306.5,430.8 311.5,431.5 316.5,432.4 321.5,433.3 326.5,432.4 331.5,431.6 336.5,431.3 341.5,431.1 346.5,430.3 351.5,429.3 356.5,430.3 361.5,428.3 366.5,428.1 371.5,431.4 376.5,434.3 381.5,434.6 386.5,435.5 391.5,436.4 396.5,436.9 401.5,437.7 406.5,440.5 411.5,442.3 416.5,442.7 421.5,445.0 426.5,445.6 431.5,449.4 436.5,453.9 441.5,461.9 446.5,470.6 451.5,475.3 456.5,478.9 461.5,479.5 466.5,481.8 471.5,484.7 476.5,488.1 481.5,492.0 486.5,495.9 491.5,502.8 496.5,504.3 501.5,505.7 506.5,506.9 511.5,506.0 516.5,502.6 521.5,501.7 526.5,500.9 531.5,498.4 536.5,495.9 541.5,496.9 546.5,498.0 551.5,497.1 556.5,495.7 561.5,491.3 566.5,486.9 571.5,482.8 576.5,478.7 581.5,475.4 586.5,472.6 591.5,469.8 596.5,467.4 601.5,467.2 606.5,467.4 611.5,470.4 616.5,469.4 621.5,469.5 626.5,472.9 631.5,475.9 636.5,478.9 641.5,481.0 646.5,483.1"/>
<rect x="17" y="418" width="279" height="12.2" fill="#fff"/>
<rect x="19" y="423" width="9" height="2.2" fill="#000"/>
<text x="31.7" y="428.2" font-size="10" fill="#111" font-family="'Liberation Mono', monospace" textLength="146" lengthAdjust="spacingAndGlyphs" >MACD(12,26,9) -1085.939</text>
<text x="178.5" y="428.2" font-size="10" fill="#ff0000" font-family="'Liberation Mono', monospace" textLength="57.5" lengthAdjust="spacingAndGlyphs" >, -846.146</text>
<text x="237.5" y="428.2" font-size="10" fill="#2e95d0" font-family="'Liberation Mono', monospace" textLength="57.5" lengthAdjust="spacingAndGlyphs" >, -239.794</text>
<line x1="653.5" y1="419.5" x2="655.5" y2="419.5" stroke="#aaa"/>
<line x1="653.5" y1="424.6" x2="655.5" y2="424.6" stroke="#aaa"/>
<line x1="653.5" y1="429.8" x2="655.5" y2="429.8" stroke="#aaa"/>
<line x1="653.5" y1="434.9" x2="655.5" y2="434.9" stroke="#aaa"/>
<line x1="653.5" y1="440.1" x2="655.5" y2="440.1" stroke="#aaa"/>
<line x1="653.5" y1="445.2" x2="655.5" y2="445.2" stroke="#aaa"/>
<line x1="653.5" y1="450.4" x2="655.5" y2="450.4" stroke="#aaa"/>
<line x1="653.5" y1="455.6" x2="655.5" y2="455.6" stroke="#aaa"/>
<line x1="653.5" y1="460.7" x2="655.5" y2="460.7" stroke="#aaa"/>
<line x1="653.5" y1="465.9" x2="655.5" y2="465.9" stroke="#aaa"/>
<line x1="653.5" y1="471.0" x2="655.5" y2="471.0" stroke="#aaa"/>
<line x1="653.5" y1="476.1" x2="655.5" y2="476.1" stroke="#aaa"/>
<line x1="653.5" y1="481.3" x2="655.5" y2="481.3" stroke="#aaa"/>
<line x1="653.5" y1="486.4" x2="655.5" y2="486.4" stroke="#aaa"/>
<line x1="653.5" y1="491.6" x2="655.5" y2="491.6" stroke="#aaa"/>
<line x1="653.5" y1="496.8" x2="655.5" y2="496.8" stroke="#aaa"/>
<line x1="653.5" y1="501.9" x2="655.5" y2="501.9" stroke="#aaa"/>
<line x1="653.5" y1="507.1" x2="655.5" y2="507.1" stroke="#aaa"/>
<line x1="653.5" y1="512.2" x2="655.5" y2="512.2" stroke="#aaa"/>
<text x="683" y="433.6" font-size="10" fill="#000" font-family="'Liberation Sans', sans-serif" text-anchor="end" textLength="22.5" lengthAdjust="spacingAndGlyphs" >1000</text>
<text x="683" y="459.6" font-size="10" fill="#000" font-family="'Liberation Sans', sans-serif" text-anchor="end" textLength="5" lengthAdjust="spacingAndGlyphs" >0</text>
<text x="683" y="510.6" font-size="10" fill="#000" font-family="'Liberation Sans', sans-serif" text-anchor="end" textLength="26" lengthAdjust="spacingAndGlyphs" >-2000</text>
<path d="M651 91.5 L654.5 86.5 H684.5 V96.5 H654.5 Z" fill="#fff" stroke="#1d5e1d" stroke-width="1"/>
<text x="655.8" y="95.1" font-size="10.3" fill="#000" font-family="'Liberation Sans', sans-serif" textLength="26.3" lengthAdjust="spacingAndGlyphs" >33.68</text>
<path d="M651 271.5 L654.5 266.5 H710 V276.5 H654.5 Z" fill="#fff" stroke="#ff1a1a" stroke-width="1"/>
<text x="655.8" y="275.1" font-size="10.3" fill="#000" font-family="'Liberation Sans', sans-serif" textLength="46" lengthAdjust="spacingAndGlyphs" >21222.13</text>
<path d="M651 298.5 L654.5 293.5 H710 V303.5 H654.5 Z" fill="#fff" stroke="#1c2a9c" stroke-width="1"/>
<text x="655.8" y="302.1" font-size="10.3" fill="#000" font-family="'Liberation Sans', sans-serif" textLength="46" lengthAdjust="spacingAndGlyphs" >19935.36</text>
<path d="M651 392 L654.5 386.5 H710 V397.5 H654.5 Z" fill="#fff" stroke="#000" stroke-width="1"/>
<text x="655.8" y="395.6" font-size="10.6" fill="#000" font-family="'Liberation Sans', sans-serif" font-weight="bold" textLength="43.5" lengthAdjust="spacingAndGlyphs" >15467.84</text>
<path d="M651 461.5 L654.5 456.5 H699.5 V466.5 H654.5 Z" fill="#fff" stroke="#3399cc" stroke-width="1"/>
<text x="655.8" y="465.1" font-size="10.3" fill="#000" font-family="'Liberation Sans', sans-serif" textLength="41.5" lengthAdjust="spacingAndGlyphs" >-239.794</text>
<path d="M651 477.5 L654.5 472.5 H699.5 V482.5 H654.5 Z" fill="#fff" stroke="#ff1a1a" stroke-width="1"/>
<text x="655.8" y="481.1" font-size="10.3" fill="#000" font-family="'Liberation Sans', sans-serif" textLength="41.5" lengthAdjust="spacingAndGlyphs" >-846.146</text>
<path d="M651 483.5 L654.5 478.5 H710 V488.5 H654.5 Z" fill="#fff" stroke="#000" stroke-width="1"/>
<text x="655.8" y="487.1" font-size="10.3" fill="#000" font-family="'Liberation Sans', sans-serif" textLength="47" lengthAdjust="spacingAndGlyphs" >-1085.939</text>
</svg></body></html>
